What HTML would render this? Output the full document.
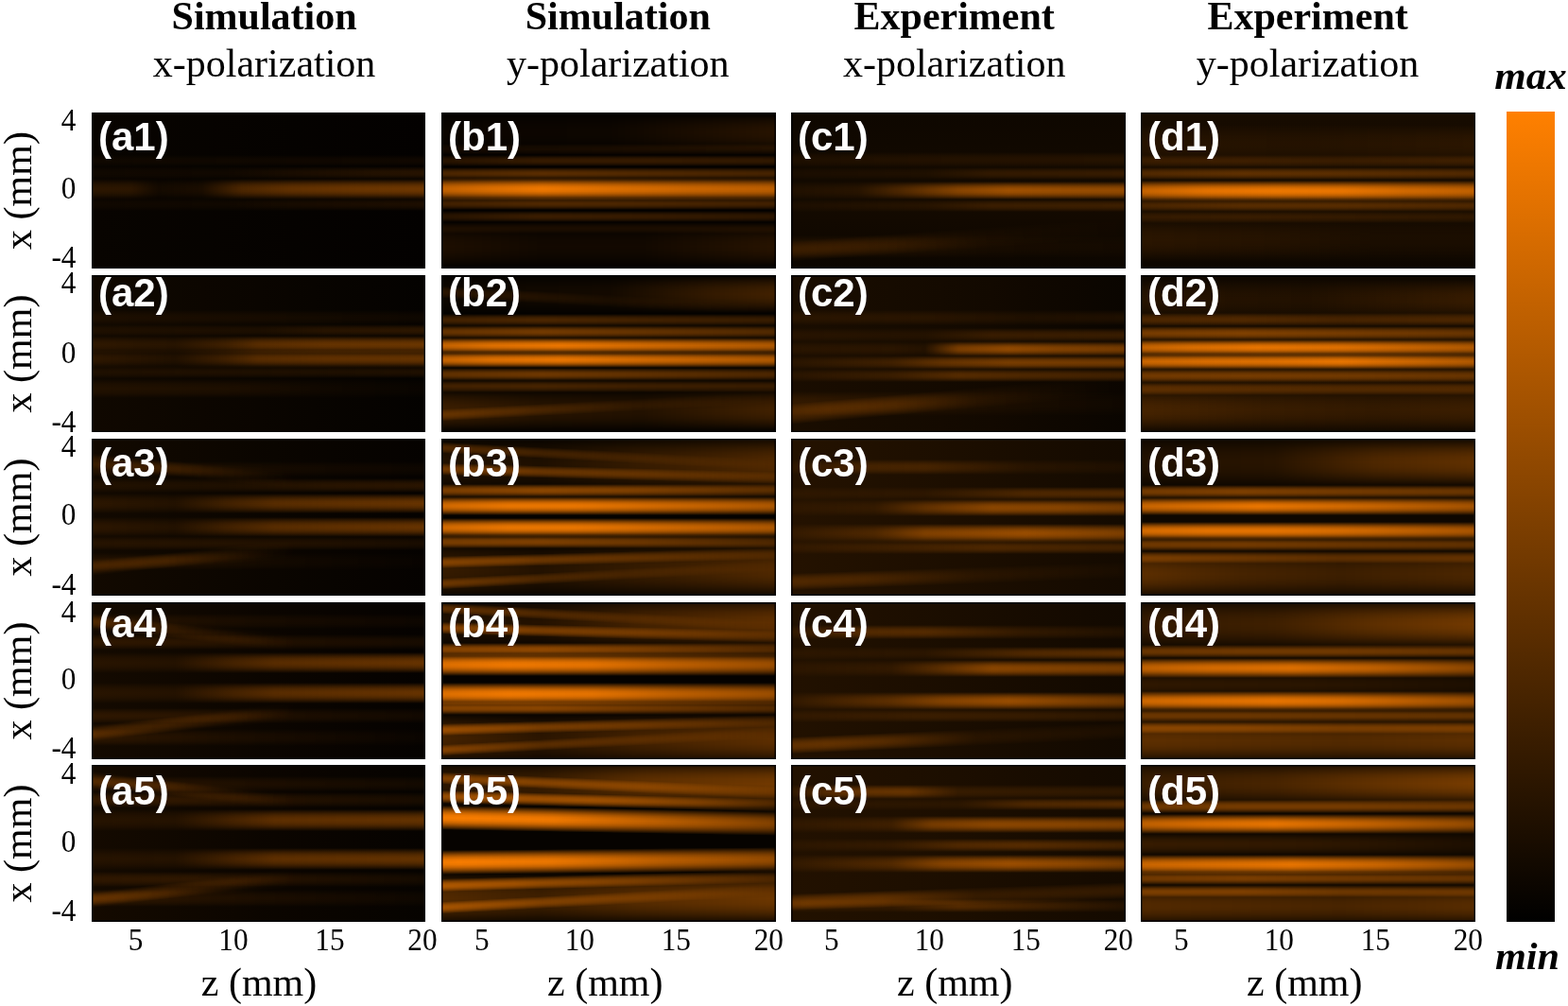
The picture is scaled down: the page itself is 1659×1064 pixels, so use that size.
<!DOCTYPE html>
<html><head><meta charset="utf-8"><title>figure</title><style>
html,body{margin:0;padding:0;background:#fff}
body{width:1659px;height:1064px;position:relative;overflow:hidden}
.p{position:absolute;overflow:hidden;isolation:isolate}
.p i{position:absolute;left:0;width:100%;display:block;mix-blend-mode:plus-lighter}
.p:after{content:'';position:absolute;left:0;top:0;right:0;bottom:0;box-shadow:inset 0 0 0 1.5px rgba(0,0,0,.85);z-index:5}
#cb{position:absolute;left:1594px;top:118px;width:51px;height:857px;background:linear-gradient(#ff8000,#000)}
svg{position:absolute;left:0;top:0}
</style></head><body>
<div class="p" style="left:97px;top:119px;width:353px;height:165px;background:linear-gradient(90deg,rgb(8,4,0),rgb(3,1,0))"><i style="top:69.8px;height:22.0px;background:linear-gradient(rgba(255,128,0,0.00) 0%,rgba(255,128,0,0.31) 10%,rgba(255,128,0,0.59) 20%,rgba(255,128,0,0.81) 30%,rgba(255,128,0,0.95) 40%,rgba(255,128,0,1.00) 50%,rgba(255,128,0,0.95) 60%,rgba(255,128,0,0.81) 70%,rgba(255,128,0,0.59) 80%,rgba(255,128,0,0.31) 90%,rgba(255,128,0,0.00) 100%);-webkit-mask-image:linear-gradient(90deg,rgba(0,0,0,0.140) 0.0%,rgba(0,0,0,0.140) 12.0%,rgba(0,0,0,0.050) 20.0%,rgba(0,0,0,0.080) 33.0%,rgba(0,0,0,0.280) 45.0%,rgba(0,0,0,0.360) 60.0%,rgba(0,0,0,0.400) 80.0%,rgba(0,0,0,0.420) 100.0%);mask-image:linear-gradient(90deg,rgba(0,0,0,0.140) 0.0%,rgba(0,0,0,0.140) 12.0%,rgba(0,0,0,0.050) 20.0%,rgba(0,0,0,0.080) 33.0%,rgba(0,0,0,0.280) 45.0%,rgba(0,0,0,0.360) 60.0%,rgba(0,0,0,0.400) 80.0%,rgba(0,0,0,0.420) 100.0%)"></i><i style="top:57.4px;height:14.0px;background:linear-gradient(rgba(255,128,0,0.00) 0%,rgba(255,128,0,0.31) 10%,rgba(255,128,0,0.59) 20%,rgba(255,128,0,0.81) 30%,rgba(255,128,0,0.95) 40%,rgba(255,128,0,1.00) 50%,rgba(255,128,0,0.95) 60%,rgba(255,128,0,0.81) 70%,rgba(255,128,0,0.59) 80%,rgba(255,128,0,0.31) 90%,rgba(255,128,0,0.00) 100%);-webkit-mask-image:linear-gradient(90deg,rgba(0,0,0,0.030) 0.0%,rgba(0,0,0,0.040) 40.0%,rgba(0,0,0,0.080) 60.0%,rgba(0,0,0,0.120) 85.0%,rgba(0,0,0,0.140) 100.0%);mask-image:linear-gradient(90deg,rgba(0,0,0,0.030) 0.0%,rgba(0,0,0,0.040) 40.0%,rgba(0,0,0,0.080) 60.0%,rgba(0,0,0,0.120) 85.0%,rgba(0,0,0,0.140) 100.0%)"></i><i style="top:89.5px;height:14.0px;background:linear-gradient(rgba(255,128,0,0.00) 0%,rgba(255,128,0,0.31) 10%,rgba(255,128,0,0.59) 20%,rgba(255,128,0,0.81) 30%,rgba(255,128,0,0.95) 40%,rgba(255,128,0,1.00) 50%,rgba(255,128,0,0.95) 60%,rgba(255,128,0,0.81) 70%,rgba(255,128,0,0.59) 80%,rgba(255,128,0,0.31) 90%,rgba(255,128,0,0.00) 100%);-webkit-mask-image:linear-gradient(90deg,rgba(0,0,0,0.030) 0.0%,rgba(0,0,0,0.040) 40.0%,rgba(0,0,0,0.070) 60.0%,rgba(0,0,0,0.100) 100.0%);mask-image:linear-gradient(90deg,rgba(0,0,0,0.030) 0.0%,rgba(0,0,0,0.040) 40.0%,rgba(0,0,0,0.070) 60.0%,rgba(0,0,0,0.100) 100.0%)"></i><i style="top:45.1px;height:12.0px;background:linear-gradient(rgba(255,128,0,0.00) 0%,rgba(255,128,0,0.31) 10%,rgba(255,128,0,0.59) 20%,rgba(255,128,0,0.81) 30%,rgba(255,128,0,0.95) 40%,rgba(255,128,0,1.00) 50%,rgba(255,128,0,0.95) 60%,rgba(255,128,0,0.81) 70%,rgba(255,128,0,0.59) 80%,rgba(255,128,0,0.31) 90%,rgba(255,128,0,0.00) 100%);-webkit-mask-image:linear-gradient(90deg,rgba(0,0,0,0.030) 0.0%,rgba(0,0,0,0.040) 50.0%,rgba(0,0,0,0.050) 100.0%);mask-image:linear-gradient(90deg,rgba(0,0,0,0.030) 0.0%,rgba(0,0,0,0.040) 50.0%,rgba(0,0,0,0.050) 100.0%)"></i></div>
<div class="p" style="left:97px;top:291px;width:353px;height:166px;background:linear-gradient(90deg,rgb(16,8,0),rgb(10,5,0) 50%,rgb(4,2,0))"><i style="top:64.0px;height:19.0px;background:linear-gradient(rgba(255,128,0,0.00) 0%,rgba(255,128,0,0.31) 10%,rgba(255,128,0,0.59) 20%,rgba(255,128,0,0.81) 30%,rgba(255,128,0,0.95) 40%,rgba(255,128,0,1.00) 50%,rgba(255,128,0,0.95) 60%,rgba(255,128,0,0.81) 70%,rgba(255,128,0,0.59) 80%,rgba(255,128,0,0.31) 90%,rgba(255,128,0,0.00) 100%);-webkit-mask-image:linear-gradient(90deg,rgba(0,0,0,0.120) 0.0%,rgba(0,0,0,0.100) 25.0%,rgba(0,0,0,0.200) 40.0%,rgba(0,0,0,0.300) 50.0%,rgba(0,0,0,0.360) 70.0%,rgba(0,0,0,0.400) 100.0%);mask-image:linear-gradient(90deg,rgba(0,0,0,0.120) 0.0%,rgba(0,0,0,0.100) 25.0%,rgba(0,0,0,0.200) 40.0%,rgba(0,0,0,0.300) 50.0%,rgba(0,0,0,0.360) 70.0%,rgba(0,0,0,0.400) 100.0%)"></i><i style="top:78.8px;height:19.0px;background:linear-gradient(rgba(255,128,0,0.00) 0%,rgba(255,128,0,0.31) 10%,rgba(255,128,0,0.59) 20%,rgba(255,128,0,0.81) 30%,rgba(255,128,0,0.95) 40%,rgba(255,128,0,1.00) 50%,rgba(255,128,0,0.95) 60%,rgba(255,128,0,0.81) 70%,rgba(255,128,0,0.59) 80%,rgba(255,128,0,0.31) 90%,rgba(255,128,0,0.00) 100%);-webkit-mask-image:linear-gradient(90deg,rgba(0,0,0,0.120) 0.0%,rgba(0,0,0,0.080) 25.0%,rgba(0,0,0,0.200) 40.0%,rgba(0,0,0,0.300) 50.0%,rgba(0,0,0,0.340) 70.0%,rgba(0,0,0,0.380) 100.0%);mask-image:linear-gradient(90deg,rgba(0,0,0,0.120) 0.0%,rgba(0,0,0,0.080) 25.0%,rgba(0,0,0,0.200) 40.0%,rgba(0,0,0,0.300) 50.0%,rgba(0,0,0,0.340) 70.0%,rgba(0,0,0,0.380) 100.0%)"></i><i style="top:52.4px;height:13.0px;background:linear-gradient(rgba(255,128,0,0.00) 0%,rgba(255,128,0,0.31) 10%,rgba(255,128,0,0.59) 20%,rgba(255,128,0,0.81) 30%,rgba(255,128,0,0.95) 40%,rgba(255,128,0,1.00) 50%,rgba(255,128,0,0.95) 60%,rgba(255,128,0,0.81) 70%,rgba(255,128,0,0.59) 80%,rgba(255,128,0,0.31) 90%,rgba(255,128,0,0.00) 100%);-webkit-mask-image:linear-gradient(90deg,rgba(0,0,0,0.060) 0.0%,rgba(0,0,0,0.070) 50.0%,rgba(0,0,0,0.120) 70.0%,rgba(0,0,0,0.160) 100.0%);mask-image:linear-gradient(90deg,rgba(0,0,0,0.060) 0.0%,rgba(0,0,0,0.070) 50.0%,rgba(0,0,0,0.120) 70.0%,rgba(0,0,0,0.160) 100.0%)"></i><i style="top:96.4px;height:13.0px;background:linear-gradient(rgba(255,128,0,0.00) 0%,rgba(255,128,0,0.31) 10%,rgba(255,128,0,0.59) 20%,rgba(255,128,0,0.81) 30%,rgba(255,128,0,0.95) 40%,rgba(255,128,0,1.00) 50%,rgba(255,128,0,0.95) 60%,rgba(255,128,0,0.81) 70%,rgba(255,128,0,0.59) 80%,rgba(255,128,0,0.31) 90%,rgba(255,128,0,0.00) 100%);-webkit-mask-image:linear-gradient(90deg,rgba(0,0,0,0.060) 0.0%,rgba(0,0,0,0.080) 50.0%,rgba(0,0,0,0.100) 100.0%);mask-image:linear-gradient(90deg,rgba(0,0,0,0.060) 0.0%,rgba(0,0,0,0.080) 50.0%,rgba(0,0,0,0.100) 100.0%)"></i><i style="top:109.5px;height:20.0px;background:linear-gradient(rgba(255,128,0,0.00) 0%,rgba(255,128,0,0.31) 10%,rgba(255,128,0,0.59) 20%,rgba(255,128,0,0.81) 30%,rgba(255,128,0,0.95) 40%,rgba(255,128,0,1.00) 50%,rgba(255,128,0,0.95) 60%,rgba(255,128,0,0.81) 70%,rgba(255,128,0,0.59) 80%,rgba(255,128,0,0.31) 90%,rgba(255,128,0,0.00) 100%);-webkit-mask-image:linear-gradient(90deg,rgba(0,0,0,0.070) 0.0%,rgba(0,0,0,0.070) 40.0%,rgba(0,0,0,0.030) 70.0%,rgba(0,0,0,0.020) 100.0%);mask-image:linear-gradient(90deg,rgba(0,0,0,0.070) 0.0%,rgba(0,0,0,0.070) 40.0%,rgba(0,0,0,0.030) 70.0%,rgba(0,0,0,0.020) 100.0%)"></i><i style="top:36.8px;height:16.0px;background:linear-gradient(rgba(255,128,0,0.00) 0%,rgba(255,128,0,0.31) 10%,rgba(255,128,0,0.59) 20%,rgba(255,128,0,0.81) 30%,rgba(255,128,0,0.95) 40%,rgba(255,128,0,1.00) 50%,rgba(255,128,0,0.95) 60%,rgba(255,128,0,0.81) 70%,rgba(255,128,0,0.59) 80%,rgba(255,128,0,0.31) 90%,rgba(255,128,0,0.00) 100%);-webkit-mask-image:linear-gradient(90deg,rgba(0,0,0,0.050) 0.0%,rgba(0,0,0,0.050) 50.0%,rgba(0,0,0,0.040) 100.0%);mask-image:linear-gradient(90deg,rgba(0,0,0,0.050) 0.0%,rgba(0,0,0,0.050) 50.0%,rgba(0,0,0,0.040) 100.0%)"></i></div>
<div class="p" style="left:97px;top:464px;width:353px;height:166px;background:linear-gradient(90deg,rgb(18,9,0),rgb(10,5,0) 55%,rgb(5,2,0))"><i style="top:57.6px;height:21.0px;background:linear-gradient(rgba(255,128,0,0.00) 0%,rgba(255,128,0,0.31) 10%,rgba(255,128,0,0.59) 20%,rgba(255,128,0,0.81) 30%,rgba(255,128,0,0.95) 40%,rgba(255,128,0,1.00) 50%,rgba(255,128,0,0.95) 60%,rgba(255,128,0,0.81) 70%,rgba(255,128,0,0.59) 80%,rgba(255,128,0,0.31) 90%,rgba(255,128,0,0.00) 100%);-webkit-mask-image:linear-gradient(90deg,rgba(0,0,0,0.100) 0.0%,rgba(0,0,0,0.080) 25.0%,rgba(0,0,0,0.200) 40.0%,rgba(0,0,0,0.300) 55.0%,rgba(0,0,0,0.340) 75.0%,rgba(0,0,0,0.380) 100.0%);mask-image:linear-gradient(90deg,rgba(0,0,0,0.100) 0.0%,rgba(0,0,0,0.080) 25.0%,rgba(0,0,0,0.200) 40.0%,rgba(0,0,0,0.300) 55.0%,rgba(0,0,0,0.340) 75.0%,rgba(0,0,0,0.380) 100.0%)"></i><i style="top:82.5px;height:21.0px;background:linear-gradient(rgba(255,128,0,0.00) 0%,rgba(255,128,0,0.31) 10%,rgba(255,128,0,0.59) 20%,rgba(255,128,0,0.81) 30%,rgba(255,128,0,0.95) 40%,rgba(255,128,0,1.00) 50%,rgba(255,128,0,0.95) 60%,rgba(255,128,0,0.81) 70%,rgba(255,128,0,0.59) 80%,rgba(255,128,0,0.31) 90%,rgba(255,128,0,0.00) 100%);-webkit-mask-image:linear-gradient(90deg,rgba(0,0,0,0.100) 0.0%,rgba(0,0,0,0.080) 25.0%,rgba(0,0,0,0.200) 40.0%,rgba(0,0,0,0.300) 55.0%,rgba(0,0,0,0.340) 75.0%,rgba(0,0,0,0.380) 100.0%);mask-image:linear-gradient(90deg,rgba(0,0,0,0.100) 0.0%,rgba(0,0,0,0.080) 25.0%,rgba(0,0,0,0.200) 40.0%,rgba(0,0,0,0.300) 55.0%,rgba(0,0,0,0.340) 75.0%,rgba(0,0,0,0.380) 100.0%)"></i><i style="top:42.3px;height:15.0px;background:linear-gradient(rgba(255,128,0,0.00) 0%,rgba(255,128,0,0.31) 10%,rgba(255,128,0,0.59) 20%,rgba(255,128,0,0.81) 30%,rgba(255,128,0,0.95) 40%,rgba(255,128,0,1.00) 50%,rgba(255,128,0,0.95) 60%,rgba(255,128,0,0.81) 70%,rgba(255,128,0,0.59) 80%,rgba(255,128,0,0.31) 90%,rgba(255,128,0,0.00) 100%);-webkit-mask-image:linear-gradient(90deg,rgba(0,0,0,0.060) 0.0%,rgba(0,0,0,0.070) 40.0%,rgba(0,0,0,0.120) 70.0%,rgba(0,0,0,0.140) 100.0%);mask-image:linear-gradient(90deg,rgba(0,0,0,0.060) 0.0%,rgba(0,0,0,0.070) 40.0%,rgba(0,0,0,0.120) 70.0%,rgba(0,0,0,0.140) 100.0%)"></i><i style="top:102.9px;height:15.0px;background:linear-gradient(rgba(255,128,0,0.00) 0%,rgba(255,128,0,0.31) 10%,rgba(255,128,0,0.59) 20%,rgba(255,128,0,0.81) 30%,rgba(255,128,0,0.95) 40%,rgba(255,128,0,1.00) 50%,rgba(255,128,0,0.95) 60%,rgba(255,128,0,0.81) 70%,rgba(255,128,0,0.59) 80%,rgba(255,128,0,0.31) 90%,rgba(255,128,0,0.00) 100%);-webkit-mask-image:linear-gradient(90deg,rgba(0,0,0,0.080) 0.0%,rgba(0,0,0,0.090) 40.0%,rgba(0,0,0,0.090) 70.0%,rgba(0,0,0,0.080) 100.0%);mask-image:linear-gradient(90deg,rgba(0,0,0,0.080) 0.0%,rgba(0,0,0,0.090) 40.0%,rgba(0,0,0,0.090) 70.0%,rgba(0,0,0,0.080) 100.0%)"></i><i style="top:23.5px;height:16.0px;background:linear-gradient(rgba(255,128,0,0.00) 0%,rgba(255,128,0,0.31) 10%,rgba(255,128,0,0.59) 20%,rgba(255,128,0,0.81) 30%,rgba(255,128,0,0.95) 40%,rgba(255,128,0,1.00) 50%,rgba(255,128,0,0.95) 60%,rgba(255,128,0,0.81) 70%,rgba(255,128,0,0.59) 80%,rgba(255,128,0,0.31) 90%,rgba(255,128,0,0.00) 100%);-webkit-mask-image:linear-gradient(90deg,rgba(0,0,0,0.080) 0.0%,rgba(0,0,0,0.060) 30.0%,rgba(0,0,0,0.040) 60.0%,rgba(0,0,0,0.030) 100.0%);mask-image:linear-gradient(90deg,rgba(0,0,0,0.080) 0.0%,rgba(0,0,0,0.060) 30.0%,rgba(0,0,0,0.040) 60.0%,rgba(0,0,0,0.030) 100.0%)"></i><i style="top:120.5px;height:18.0px;background:linear-gradient(rgba(255,128,0,0.00) 0%,rgba(255,128,0,0.31) 10%,rgba(255,128,0,0.59) 20%,rgba(255,128,0,0.81) 30%,rgba(255,128,0,0.95) 40%,rgba(255,128,0,1.00) 50%,rgba(255,128,0,0.95) 60%,rgba(255,128,0,0.81) 70%,rgba(255,128,0,0.59) 80%,rgba(255,128,0,0.31) 90%,rgba(255,128,0,0.00) 100%);-webkit-mask-image:linear-gradient(90deg,rgba(0,0,0,0.070) 0.0%,rgba(0,0,0,0.060) 30.0%,rgba(0,0,0,0.030) 60.0%,rgba(0,0,0,0.010) 100.0%);mask-image:linear-gradient(90deg,rgba(0,0,0,0.070) 0.0%,rgba(0,0,0,0.060) 30.0%,rgba(0,0,0,0.030) 60.0%,rgba(0,0,0,0.010) 100.0%)"></i><i style="top:91.6px;height:16.0px;background:linear-gradient(rgba(255,128,0,0.00) 0%,rgba(255,128,0,0.31) 10%,rgba(255,128,0,0.59) 20%,rgba(255,128,0,0.81) 30%,rgba(255,128,0,0.95) 40%,rgba(255,128,0,1.00) 50%,rgba(255,128,0,0.95) 60%,rgba(255,128,0,0.81) 70%,rgba(255,128,0,0.59) 80%,rgba(255,128,0,0.31) 90%,rgba(255,128,0,0.00) 100%);-webkit-mask-image:linear-gradient(90deg,rgba(0,0,0,0.098) 0.0%,rgba(0,0,0,0.084) 30.0%,rgba(0,0,0,0.042) 50.0%,rgba(0,0,0,0.000) 65.0%);mask-image:linear-gradient(90deg,rgba(0,0,0,0.098) 0.0%,rgba(0,0,0,0.084) 30.0%,rgba(0,0,0,0.042) 50.0%,rgba(0,0,0,0.000) 65.0%);left:-12%;width:112%;transform:rotate(-6deg);transform-origin:100% 50%"></i><i style="top:101.6px;height:16.0px;background:linear-gradient(rgba(255,128,0,0.00) 0%,rgba(255,128,0,0.31) 10%,rgba(255,128,0,0.59) 20%,rgba(255,128,0,0.81) 30%,rgba(255,128,0,0.95) 40%,rgba(255,128,0,1.00) 50%,rgba(255,128,0,0.95) 60%,rgba(255,128,0,0.81) 70%,rgba(255,128,0,0.59) 80%,rgba(255,128,0,0.31) 90%,rgba(255,128,0,0.00) 100%);-webkit-mask-image:linear-gradient(90deg,rgba(0,0,0,0.084) 0.0%,rgba(0,0,0,0.070) 30.0%,rgba(0,0,0,0.035) 50.0%,rgba(0,0,0,0.000) 65.0%);mask-image:linear-gradient(90deg,rgba(0,0,0,0.084) 0.0%,rgba(0,0,0,0.070) 30.0%,rgba(0,0,0,0.035) 50.0%,rgba(0,0,0,0.000) 65.0%);left:-12%;width:112%;transform:rotate(-4deg);transform-origin:100% 50%"></i><i style="top:51.8px;height:16.0px;background:linear-gradient(rgba(255,128,0,0.00) 0%,rgba(255,128,0,0.31) 10%,rgba(255,128,0,0.59) 20%,rgba(255,128,0,0.81) 30%,rgba(255,128,0,0.95) 40%,rgba(255,128,0,1.00) 50%,rgba(255,128,0,0.95) 60%,rgba(255,128,0,0.81) 70%,rgba(255,128,0,0.59) 80%,rgba(255,128,0,0.31) 90%,rgba(255,128,0,0.00) 100%);-webkit-mask-image:linear-gradient(90deg,rgba(0,0,0,0.070) 0.0%,rgba(0,0,0,0.063) 30.0%,rgba(0,0,0,0.035) 50.0%,rgba(0,0,0,0.000) 65.0%);mask-image:linear-gradient(90deg,rgba(0,0,0,0.070) 0.0%,rgba(0,0,0,0.063) 30.0%,rgba(0,0,0,0.035) 50.0%,rgba(0,0,0,0.000) 65.0%);left:-12%;width:112%;transform:rotate(6deg);transform-origin:100% 50%"></i><i style="top:41.8px;height:16.0px;background:linear-gradient(rgba(255,128,0,0.00) 0%,rgba(255,128,0,0.31) 10%,rgba(255,128,0,0.59) 20%,rgba(255,128,0,0.81) 30%,rgba(255,128,0,0.95) 40%,rgba(255,128,0,1.00) 50%,rgba(255,128,0,0.95) 60%,rgba(255,128,0,0.81) 70%,rgba(255,128,0,0.59) 80%,rgba(255,128,0,0.31) 90%,rgba(255,128,0,0.00) 100%);-webkit-mask-image:linear-gradient(90deg,rgba(0,0,0,0.070) 0.0%,rgba(0,0,0,0.056) 30.0%,rgba(0,0,0,0.028) 50.0%,rgba(0,0,0,0.000) 65.0%);mask-image:linear-gradient(90deg,rgba(0,0,0,0.070) 0.0%,rgba(0,0,0,0.056) 30.0%,rgba(0,0,0,0.028) 50.0%,rgba(0,0,0,0.000) 65.0%);left:-12%;width:112%;transform:rotate(4deg);transform-origin:100% 50%"></i></div>
<div class="p" style="left:97px;top:637px;width:353px;height:166px;background:linear-gradient(90deg,rgb(20,10,0),rgb(11,5,0) 55%,rgb(5,2,0))"><i style="top:52.9px;height:22.0px;background:linear-gradient(rgba(255,128,0,0.00) 0%,rgba(255,128,0,0.31) 10%,rgba(255,128,0,0.59) 20%,rgba(255,128,0,0.81) 30%,rgba(255,128,0,0.95) 40%,rgba(255,128,0,1.00) 50%,rgba(255,128,0,0.95) 60%,rgba(255,128,0,0.81) 70%,rgba(255,128,0,0.59) 80%,rgba(255,128,0,0.31) 90%,rgba(255,128,0,0.00) 100%);-webkit-mask-image:linear-gradient(90deg,rgba(0,0,0,0.080) 0.0%,rgba(0,0,0,0.080) 25.0%,rgba(0,0,0,0.200) 40.0%,rgba(0,0,0,0.300) 55.0%,rgba(0,0,0,0.340) 75.0%,rgba(0,0,0,0.380) 100.0%);mask-image:linear-gradient(90deg,rgba(0,0,0,0.080) 0.0%,rgba(0,0,0,0.080) 25.0%,rgba(0,0,0,0.200) 40.0%,rgba(0,0,0,0.300) 55.0%,rgba(0,0,0,0.340) 75.0%,rgba(0,0,0,0.380) 100.0%)"></i><i style="top:85.3px;height:22.0px;background:linear-gradient(rgba(255,128,0,0.00) 0%,rgba(255,128,0,0.31) 10%,rgba(255,128,0,0.59) 20%,rgba(255,128,0,0.81) 30%,rgba(255,128,0,0.95) 40%,rgba(255,128,0,1.00) 50%,rgba(255,128,0,0.95) 60%,rgba(255,128,0,0.81) 70%,rgba(255,128,0,0.59) 80%,rgba(255,128,0,0.31) 90%,rgba(255,128,0,0.00) 100%);-webkit-mask-image:linear-gradient(90deg,rgba(0,0,0,0.080) 0.0%,rgba(0,0,0,0.080) 25.0%,rgba(0,0,0,0.200) 40.0%,rgba(0,0,0,0.300) 55.0%,rgba(0,0,0,0.340) 75.0%,rgba(0,0,0,0.380) 100.0%);mask-image:linear-gradient(90deg,rgba(0,0,0,0.080) 0.0%,rgba(0,0,0,0.080) 25.0%,rgba(0,0,0,0.200) 40.0%,rgba(0,0,0,0.300) 55.0%,rgba(0,0,0,0.340) 75.0%,rgba(0,0,0,0.380) 100.0%)"></i><i style="top:33.5px;height:16.0px;background:linear-gradient(rgba(255,128,0,0.00) 0%,rgba(255,128,0,0.31) 10%,rgba(255,128,0,0.59) 20%,rgba(255,128,0,0.81) 30%,rgba(255,128,0,0.95) 40%,rgba(255,128,0,1.00) 50%,rgba(255,128,0,0.95) 60%,rgba(255,128,0,0.81) 70%,rgba(255,128,0,0.59) 80%,rgba(255,128,0,0.31) 90%,rgba(255,128,0,0.00) 100%);-webkit-mask-image:linear-gradient(90deg,rgba(0,0,0,0.100) 0.0%,rgba(0,0,0,0.100) 30.0%,rgba(0,0,0,0.080) 60.0%,rgba(0,0,0,0.070) 100.0%);mask-image:linear-gradient(90deg,rgba(0,0,0,0.100) 0.0%,rgba(0,0,0,0.100) 30.0%,rgba(0,0,0,0.080) 60.0%,rgba(0,0,0,0.070) 100.0%)"></i><i style="top:111.5px;height:16.0px;background:linear-gradient(rgba(255,128,0,0.00) 0%,rgba(255,128,0,0.31) 10%,rgba(255,128,0,0.59) 20%,rgba(255,128,0,0.81) 30%,rgba(255,128,0,0.95) 40%,rgba(255,128,0,1.00) 50%,rgba(255,128,0,0.95) 60%,rgba(255,128,0,0.81) 70%,rgba(255,128,0,0.59) 80%,rgba(255,128,0,0.31) 90%,rgba(255,128,0,0.00) 100%);-webkit-mask-image:linear-gradient(90deg,rgba(0,0,0,0.100) 0.0%,rgba(0,0,0,0.100) 30.0%,rgba(0,0,0,0.070) 60.0%,rgba(0,0,0,0.050) 100.0%);mask-image:linear-gradient(90deg,rgba(0,0,0,0.100) 0.0%,rgba(0,0,0,0.100) 30.0%,rgba(0,0,0,0.070) 60.0%,rgba(0,0,0,0.050) 100.0%)"></i><i style="top:11.9px;height:16.0px;background:linear-gradient(rgba(255,128,0,0.00) 0%,rgba(255,128,0,0.31) 10%,rgba(255,128,0,0.59) 20%,rgba(255,128,0,0.81) 30%,rgba(255,128,0,0.95) 40%,rgba(255,128,0,1.00) 50%,rgba(255,128,0,0.95) 60%,rgba(255,128,0,0.81) 70%,rgba(255,128,0,0.59) 80%,rgba(255,128,0,0.31) 90%,rgba(255,128,0,0.00) 100%);-webkit-mask-image:linear-gradient(90deg,rgba(0,0,0,0.080) 0.0%,rgba(0,0,0,0.050) 40.0%,rgba(0,0,0,0.030) 100.0%);mask-image:linear-gradient(90deg,rgba(0,0,0,0.080) 0.0%,rgba(0,0,0,0.050) 40.0%,rgba(0,0,0,0.030) 100.0%)"></i><i style="top:133.8px;height:18.0px;background:linear-gradient(rgba(255,128,0,0.00) 0%,rgba(255,128,0,0.31) 10%,rgba(255,128,0,0.59) 20%,rgba(255,128,0,0.81) 30%,rgba(255,128,0,0.95) 40%,rgba(255,128,0,1.00) 50%,rgba(255,128,0,0.95) 60%,rgba(255,128,0,0.81) 70%,rgba(255,128,0,0.59) 80%,rgba(255,128,0,0.31) 90%,rgba(255,128,0,0.00) 100%);-webkit-mask-image:linear-gradient(90deg,rgba(0,0,0,0.100) 0.0%,rgba(0,0,0,0.060) 40.0%,rgba(0,0,0,0.020) 100.0%);mask-image:linear-gradient(90deg,rgba(0,0,0,0.100) 0.0%,rgba(0,0,0,0.060) 40.0%,rgba(0,0,0,0.020) 100.0%)"></i><i style="top:88.3px;height:16.0px;background:linear-gradient(rgba(255,128,0,0.00) 0%,rgba(255,128,0,0.31) 10%,rgba(255,128,0,0.59) 20%,rgba(255,128,0,0.81) 30%,rgba(255,128,0,0.95) 40%,rgba(255,128,0,1.00) 50%,rgba(255,128,0,0.95) 60%,rgba(255,128,0,0.81) 70%,rgba(255,128,0,0.59) 80%,rgba(255,128,0,0.31) 90%,rgba(255,128,0,0.00) 100%);-webkit-mask-image:linear-gradient(90deg,rgba(0,0,0,0.112) 0.0%,rgba(0,0,0,0.098) 30.0%,rgba(0,0,0,0.049) 50.0%,rgba(0,0,0,0.000) 65.0%);mask-image:linear-gradient(90deg,rgba(0,0,0,0.112) 0.0%,rgba(0,0,0,0.098) 30.0%,rgba(0,0,0,0.049) 50.0%,rgba(0,0,0,0.000) 65.0%);left:-12%;width:112%;transform:rotate(-7deg);transform-origin:100% 50%"></i><i style="top:98.2px;height:16.0px;background:linear-gradient(rgba(255,128,0,0.00) 0%,rgba(255,128,0,0.31) 10%,rgba(255,128,0,0.59) 20%,rgba(255,128,0,0.81) 30%,rgba(255,128,0,0.95) 40%,rgba(255,128,0,1.00) 50%,rgba(255,128,0,0.95) 60%,rgba(255,128,0,0.81) 70%,rgba(255,128,0,0.59) 80%,rgba(255,128,0,0.31) 90%,rgba(255,128,0,0.00) 100%);-webkit-mask-image:linear-gradient(90deg,rgba(0,0,0,0.098) 0.0%,rgba(0,0,0,0.084) 30.0%,rgba(0,0,0,0.042) 50.0%,rgba(0,0,0,0.000) 65.0%);mask-image:linear-gradient(90deg,rgba(0,0,0,0.098) 0.0%,rgba(0,0,0,0.084) 30.0%,rgba(0,0,0,0.042) 50.0%,rgba(0,0,0,0.000) 65.0%);left:-12%;width:112%;transform:rotate(-5deg);transform-origin:100% 50%"></i><i style="top:55.1px;height:16.0px;background:linear-gradient(rgba(255,128,0,0.00) 0%,rgba(255,128,0,0.31) 10%,rgba(255,128,0,0.59) 20%,rgba(255,128,0,0.81) 30%,rgba(255,128,0,0.95) 40%,rgba(255,128,0,1.00) 50%,rgba(255,128,0,0.95) 60%,rgba(255,128,0,0.81) 70%,rgba(255,128,0,0.59) 80%,rgba(255,128,0,0.31) 90%,rgba(255,128,0,0.00) 100%);-webkit-mask-image:linear-gradient(90deg,rgba(0,0,0,0.084) 0.0%,rgba(0,0,0,0.070) 30.0%,rgba(0,0,0,0.035) 50.0%,rgba(0,0,0,0.000) 65.0%);mask-image:linear-gradient(90deg,rgba(0,0,0,0.084) 0.0%,rgba(0,0,0,0.070) 30.0%,rgba(0,0,0,0.035) 50.0%,rgba(0,0,0,0.000) 65.0%);left:-12%;width:112%;transform:rotate(7deg);transform-origin:100% 50%"></i><i style="top:45.1px;height:16.0px;background:linear-gradient(rgba(255,128,0,0.00) 0%,rgba(255,128,0,0.31) 10%,rgba(255,128,0,0.59) 20%,rgba(255,128,0,0.81) 30%,rgba(255,128,0,0.95) 40%,rgba(255,128,0,1.00) 50%,rgba(255,128,0,0.95) 60%,rgba(255,128,0,0.81) 70%,rgba(255,128,0,0.59) 80%,rgba(255,128,0,0.31) 90%,rgba(255,128,0,0.00) 100%);-webkit-mask-image:linear-gradient(90deg,rgba(0,0,0,0.084) 0.0%,rgba(0,0,0,0.070) 30.0%,rgba(0,0,0,0.035) 50.0%,rgba(0,0,0,0.000) 65.0%);mask-image:linear-gradient(90deg,rgba(0,0,0,0.084) 0.0%,rgba(0,0,0,0.070) 30.0%,rgba(0,0,0,0.035) 50.0%,rgba(0,0,0,0.000) 65.0%);left:-12%;width:112%;transform:rotate(5deg);transform-origin:100% 50%"></i></div>
<div class="p" style="left:97px;top:809px;width:353px;height:166px;background:linear-gradient(90deg,rgb(20,10,0),rgb(11,5,0) 55%,rgb(6,3,0))"><i style="top:47.4px;height:23.0px;background:linear-gradient(rgba(255,128,0,0.00) 0%,rgba(255,128,0,0.31) 10%,rgba(255,128,0,0.59) 20%,rgba(255,128,0,0.81) 30%,rgba(255,128,0,0.95) 40%,rgba(255,128,0,1.00) 50%,rgba(255,128,0,0.95) 60%,rgba(255,128,0,0.81) 70%,rgba(255,128,0,0.59) 80%,rgba(255,128,0,0.31) 90%,rgba(255,128,0,0.00) 100%);-webkit-mask-image:linear-gradient(90deg,rgba(0,0,0,0.070) 0.0%,rgba(0,0,0,0.080) 25.0%,rgba(0,0,0,0.200) 40.0%,rgba(0,0,0,0.320) 55.0%,rgba(0,0,0,0.340) 75.0%,rgba(0,0,0,0.360) 100.0%);mask-image:linear-gradient(90deg,rgba(0,0,0,0.070) 0.0%,rgba(0,0,0,0.080) 25.0%,rgba(0,0,0,0.200) 40.0%,rgba(0,0,0,0.320) 55.0%,rgba(0,0,0,0.340) 75.0%,rgba(0,0,0,0.360) 100.0%)"></i><i style="top:88.1px;height:23.0px;background:linear-gradient(rgba(255,128,0,0.00) 0%,rgba(255,128,0,0.31) 10%,rgba(255,128,0,0.59) 20%,rgba(255,128,0,0.81) 30%,rgba(255,128,0,0.95) 40%,rgba(255,128,0,1.00) 50%,rgba(255,128,0,0.95) 60%,rgba(255,128,0,0.81) 70%,rgba(255,128,0,0.59) 80%,rgba(255,128,0,0.31) 90%,rgba(255,128,0,0.00) 100%);-webkit-mask-image:linear-gradient(90deg,rgba(0,0,0,0.070) 0.0%,rgba(0,0,0,0.080) 25.0%,rgba(0,0,0,0.200) 40.0%,rgba(0,0,0,0.320) 55.0%,rgba(0,0,0,0.340) 75.0%,rgba(0,0,0,0.360) 100.0%);mask-image:linear-gradient(90deg,rgba(0,0,0,0.070) 0.0%,rgba(0,0,0,0.080) 25.0%,rgba(0,0,0,0.200) 40.0%,rgba(0,0,0,0.320) 55.0%,rgba(0,0,0,0.340) 75.0%,rgba(0,0,0,0.360) 100.0%)"></i><i style="top:28.5px;height:16.0px;background:linear-gradient(rgba(255,128,0,0.00) 0%,rgba(255,128,0,0.31) 10%,rgba(255,128,0,0.59) 20%,rgba(255,128,0,0.81) 30%,rgba(255,128,0,0.95) 40%,rgba(255,128,0,1.00) 50%,rgba(255,128,0,0.95) 60%,rgba(255,128,0,0.81) 70%,rgba(255,128,0,0.59) 80%,rgba(255,128,0,0.31) 90%,rgba(255,128,0,0.00) 100%);-webkit-mask-image:linear-gradient(90deg,rgba(0,0,0,0.120) 0.0%,rgba(0,0,0,0.120) 30.0%,rgba(0,0,0,0.090) 60.0%,rgba(0,0,0,0.070) 100.0%);mask-image:linear-gradient(90deg,rgba(0,0,0,0.120) 0.0%,rgba(0,0,0,0.120) 30.0%,rgba(0,0,0,0.090) 60.0%,rgba(0,0,0,0.070) 100.0%)"></i><i style="top:11.9px;height:16.0px;background:linear-gradient(rgba(255,128,0,0.00) 0%,rgba(255,128,0,0.31) 10%,rgba(255,128,0,0.59) 20%,rgba(255,128,0,0.81) 30%,rgba(255,128,0,0.95) 40%,rgba(255,128,0,1.00) 50%,rgba(255,128,0,0.95) 60%,rgba(255,128,0,0.81) 70%,rgba(255,128,0,0.59) 80%,rgba(255,128,0,0.31) 90%,rgba(255,128,0,0.00) 100%);-webkit-mask-image:linear-gradient(90deg,rgba(0,0,0,0.090) 0.0%,rgba(0,0,0,0.070) 40.0%,rgba(0,0,0,0.050) 100.0%);mask-image:linear-gradient(90deg,rgba(0,0,0,0.090) 0.0%,rgba(0,0,0,0.070) 40.0%,rgba(0,0,0,0.050) 100.0%)"></i><i style="top:113.2px;height:16.0px;background:linear-gradient(rgba(255,128,0,0.00) 0%,rgba(255,128,0,0.31) 10%,rgba(255,128,0,0.59) 20%,rgba(255,128,0,0.81) 30%,rgba(255,128,0,0.95) 40%,rgba(255,128,0,1.00) 50%,rgba(255,128,0,0.95) 60%,rgba(255,128,0,0.81) 70%,rgba(255,128,0,0.59) 80%,rgba(255,128,0,0.31) 90%,rgba(255,128,0,0.00) 100%);-webkit-mask-image:linear-gradient(90deg,rgba(0,0,0,0.100) 0.0%,rgba(0,0,0,0.120) 30.0%,rgba(0,0,0,0.090) 60.0%,rgba(0,0,0,0.060) 100.0%);mask-image:linear-gradient(90deg,rgba(0,0,0,0.100) 0.0%,rgba(0,0,0,0.120) 30.0%,rgba(0,0,0,0.090) 60.0%,rgba(0,0,0,0.060) 100.0%)"></i><i style="top:132.1px;height:18.0px;background:linear-gradient(rgba(255,128,0,0.00) 0%,rgba(255,128,0,0.31) 10%,rgba(255,128,0,0.59) 20%,rgba(255,128,0,0.81) 30%,rgba(255,128,0,0.95) 40%,rgba(255,128,0,1.00) 50%,rgba(255,128,0,0.95) 60%,rgba(255,128,0,0.81) 70%,rgba(255,128,0,0.59) 80%,rgba(255,128,0,0.31) 90%,rgba(255,128,0,0.00) 100%);-webkit-mask-image:linear-gradient(90deg,rgba(0,0,0,0.120) 0.0%,rgba(0,0,0,0.070) 40.0%,rgba(0,0,0,0.030) 100.0%);mask-image:linear-gradient(90deg,rgba(0,0,0,0.120) 0.0%,rgba(0,0,0,0.070) 40.0%,rgba(0,0,0,0.030) 100.0%)"></i><i style="top:91.6px;height:16.0px;background:linear-gradient(rgba(255,128,0,0.00) 0%,rgba(255,128,0,0.31) 10%,rgba(255,128,0,0.59) 20%,rgba(255,128,0,0.81) 30%,rgba(255,128,0,0.95) 40%,rgba(255,128,0,1.00) 50%,rgba(255,128,0,0.95) 60%,rgba(255,128,0,0.81) 70%,rgba(255,128,0,0.59) 80%,rgba(255,128,0,0.31) 90%,rgba(255,128,0,0.00) 100%);-webkit-mask-image:linear-gradient(90deg,rgba(0,0,0,0.112) 0.0%,rgba(0,0,0,0.098) 30.0%,rgba(0,0,0,0.049) 50.0%,rgba(0,0,0,0.000) 65.0%);mask-image:linear-gradient(90deg,rgba(0,0,0,0.112) 0.0%,rgba(0,0,0,0.098) 30.0%,rgba(0,0,0,0.049) 50.0%,rgba(0,0,0,0.000) 65.0%);left:-12%;width:112%;transform:rotate(-7deg);transform-origin:100% 50%"></i><i style="top:101.6px;height:16.0px;background:linear-gradient(rgba(255,128,0,0.00) 0%,rgba(255,128,0,0.31) 10%,rgba(255,128,0,0.59) 20%,rgba(255,128,0,0.81) 30%,rgba(255,128,0,0.95) 40%,rgba(255,128,0,1.00) 50%,rgba(255,128,0,0.95) 60%,rgba(255,128,0,0.81) 70%,rgba(255,128,0,0.59) 80%,rgba(255,128,0,0.31) 90%,rgba(255,128,0,0.00) 100%);-webkit-mask-image:linear-gradient(90deg,rgba(0,0,0,0.098) 0.0%,rgba(0,0,0,0.084) 30.0%,rgba(0,0,0,0.042) 50.0%,rgba(0,0,0,0.000) 65.0%);mask-image:linear-gradient(90deg,rgba(0,0,0,0.098) 0.0%,rgba(0,0,0,0.084) 30.0%,rgba(0,0,0,0.042) 50.0%,rgba(0,0,0,0.000) 65.0%);left:-12%;width:112%;transform:rotate(-5deg);transform-origin:100% 50%"></i><i style="top:50.1px;height:16.0px;background:linear-gradient(rgba(255,128,0,0.00) 0%,rgba(255,128,0,0.31) 10%,rgba(255,128,0,0.59) 20%,rgba(255,128,0,0.81) 30%,rgba(255,128,0,0.95) 40%,rgba(255,128,0,1.00) 50%,rgba(255,128,0,0.95) 60%,rgba(255,128,0,0.81) 70%,rgba(255,128,0,0.59) 80%,rgba(255,128,0,0.31) 90%,rgba(255,128,0,0.00) 100%);-webkit-mask-image:linear-gradient(90deg,rgba(0,0,0,0.098) 0.0%,rgba(0,0,0,0.084) 30.0%,rgba(0,0,0,0.042) 50.0%,rgba(0,0,0,0.000) 65.0%);mask-image:linear-gradient(90deg,rgba(0,0,0,0.098) 0.0%,rgba(0,0,0,0.084) 30.0%,rgba(0,0,0,0.042) 50.0%,rgba(0,0,0,0.000) 65.0%);left:-12%;width:112%;transform:rotate(7deg);transform-origin:100% 50%"></i><i style="top:40.1px;height:16.0px;background:linear-gradient(rgba(255,128,0,0.00) 0%,rgba(255,128,0,0.31) 10%,rgba(255,128,0,0.59) 20%,rgba(255,128,0,0.81) 30%,rgba(255,128,0,0.95) 40%,rgba(255,128,0,1.00) 50%,rgba(255,128,0,0.95) 60%,rgba(255,128,0,0.81) 70%,rgba(255,128,0,0.59) 80%,rgba(255,128,0,0.31) 90%,rgba(255,128,0,0.00) 100%);-webkit-mask-image:linear-gradient(90deg,rgba(0,0,0,0.084) 0.0%,rgba(0,0,0,0.070) 30.0%,rgba(0,0,0,0.035) 50.0%,rgba(0,0,0,0.000) 65.0%);mask-image:linear-gradient(90deg,rgba(0,0,0,0.084) 0.0%,rgba(0,0,0,0.070) 30.0%,rgba(0,0,0,0.035) 50.0%,rgba(0,0,0,0.000) 65.0%);left:-12%;width:112%;transform:rotate(5deg);transform-origin:100% 50%"></i></div>
<div class="p" style="left:467px;top:119px;width:354px;height:165px;background:#030100"><i style="top:68.8px;height:24.0px;background:linear-gradient(rgba(255,128,0,0.00) 0%,rgba(255,128,0,0.31) 10%,rgba(255,128,0,0.59) 20%,rgba(255,128,0,0.81) 30%,rgba(255,128,0,0.95) 40%,rgba(255,128,0,1.00) 50%,rgba(255,128,0,0.95) 60%,rgba(255,128,0,0.81) 70%,rgba(255,128,0,0.59) 80%,rgba(255,128,0,0.31) 90%,rgba(255,128,0,0.00) 100%);-webkit-mask-image:linear-gradient(90deg,rgba(0,0,0,0.750) 0.0%,rgba(0,0,0,0.850) 15.0%,rgba(0,0,0,0.930) 30.0%,rgba(0,0,0,0.860) 50.0%,rgba(0,0,0,0.780) 75.0%,rgba(0,0,0,0.720) 100.0%);mask-image:linear-gradient(90deg,rgba(0,0,0,0.750) 0.0%,rgba(0,0,0,0.850) 15.0%,rgba(0,0,0,0.930) 30.0%,rgba(0,0,0,0.860) 50.0%,rgba(0,0,0,0.780) 75.0%,rgba(0,0,0,0.720) 100.0%)"></i><i style="top:57.9px;height:13.0px;background:linear-gradient(rgba(255,128,0,0.00) 0%,rgba(255,128,0,0.31) 10%,rgba(255,128,0,0.59) 20%,rgba(255,128,0,0.81) 30%,rgba(255,128,0,0.95) 40%,rgba(255,128,0,1.00) 50%,rgba(255,128,0,0.95) 60%,rgba(255,128,0,0.81) 70%,rgba(255,128,0,0.59) 80%,rgba(255,128,0,0.31) 90%,rgba(255,128,0,0.00) 100%);-webkit-mask-image:linear-gradient(90deg,rgba(0,0,0,0.280) 0.0%,rgba(0,0,0,0.340) 30.0%,rgba(0,0,0,0.300) 60.0%,rgba(0,0,0,0.260) 100.0%);mask-image:linear-gradient(90deg,rgba(0,0,0,0.280) 0.0%,rgba(0,0,0,0.340) 30.0%,rgba(0,0,0,0.300) 60.0%,rgba(0,0,0,0.260) 100.0%)"></i><i style="top:45.1px;height:12.0px;background:linear-gradient(rgba(255,128,0,0.00) 0%,rgba(255,128,0,0.31) 10%,rgba(255,128,0,0.59) 20%,rgba(255,128,0,0.81) 30%,rgba(255,128,0,0.95) 40%,rgba(255,128,0,1.00) 50%,rgba(255,128,0,0.95) 60%,rgba(255,128,0,0.81) 70%,rgba(255,128,0,0.59) 80%,rgba(255,128,0,0.31) 90%,rgba(255,128,0,0.00) 100%);-webkit-mask-image:linear-gradient(90deg,rgba(0,0,0,0.140) 0.0%,rgba(0,0,0,0.200) 30.0%,rgba(0,0,0,0.200) 60.0%,rgba(0,0,0,0.180) 100.0%);mask-image:linear-gradient(90deg,rgba(0,0,0,0.140) 0.0%,rgba(0,0,0,0.200) 30.0%,rgba(0,0,0,0.200) 60.0%,rgba(0,0,0,0.180) 100.0%)"></i><i style="top:90.0px;height:13.0px;background:linear-gradient(rgba(255,128,0,0.00) 0%,rgba(255,128,0,0.31) 10%,rgba(255,128,0,0.59) 20%,rgba(255,128,0,0.81) 30%,rgba(255,128,0,0.95) 40%,rgba(255,128,0,1.00) 50%,rgba(255,128,0,0.95) 60%,rgba(255,128,0,0.81) 70%,rgba(255,128,0,0.59) 80%,rgba(255,128,0,0.31) 90%,rgba(255,128,0,0.00) 100%);-webkit-mask-image:linear-gradient(90deg,rgba(0,0,0,0.240) 0.0%,rgba(0,0,0,0.300) 30.0%,rgba(0,0,0,0.280) 60.0%,rgba(0,0,0,0.240) 100.0%);mask-image:linear-gradient(90deg,rgba(0,0,0,0.240) 0.0%,rgba(0,0,0,0.300) 30.0%,rgba(0,0,0,0.280) 60.0%,rgba(0,0,0,0.240) 100.0%)"></i><i style="top:103.7px;height:12.0px;background:linear-gradient(rgba(255,128,0,0.00) 0%,rgba(255,128,0,0.31) 10%,rgba(255,128,0,0.59) 20%,rgba(255,128,0,0.81) 30%,rgba(255,128,0,0.95) 40%,rgba(255,128,0,1.00) 50%,rgba(255,128,0,0.95) 60%,rgba(255,128,0,0.81) 70%,rgba(255,128,0,0.59) 80%,rgba(255,128,0,0.31) 90%,rgba(255,128,0,0.00) 100%);-webkit-mask-image:linear-gradient(90deg,rgba(0,0,0,0.140) 0.0%,rgba(0,0,0,0.220) 30.0%,rgba(0,0,0,0.200) 60.0%,rgba(0,0,0,0.160) 100.0%);mask-image:linear-gradient(90deg,rgba(0,0,0,0.140) 0.0%,rgba(0,0,0,0.220) 30.0%,rgba(0,0,0,0.200) 60.0%,rgba(0,0,0,0.160) 100.0%)"></i><i style="top:32.8px;height:12.0px;background:linear-gradient(rgba(255,128,0,0.00) 0%,rgba(255,128,0,0.31) 10%,rgba(255,128,0,0.59) 20%,rgba(255,128,0,0.81) 30%,rgba(255,128,0,0.95) 40%,rgba(255,128,0,1.00) 50%,rgba(255,128,0,0.95) 60%,rgba(255,128,0,0.81) 70%,rgba(255,128,0,0.59) 80%,rgba(255,128,0,0.31) 90%,rgba(255,128,0,0.00) 100%);-webkit-mask-image:linear-gradient(90deg,rgba(0,0,0,0.060) 0.0%,rgba(0,0,0,0.080) 50.0%,rgba(0,0,0,0.100) 100.0%);mask-image:linear-gradient(90deg,rgba(0,0,0,0.060) 0.0%,rgba(0,0,0,0.080) 50.0%,rgba(0,0,0,0.100) 100.0%)"></i><i style="top:116.1px;height:12.0px;background:linear-gradient(rgba(255,128,0,0.00) 0%,rgba(255,128,0,0.31) 10%,rgba(255,128,0,0.59) 20%,rgba(255,128,0,0.81) 30%,rgba(255,128,0,0.95) 40%,rgba(255,128,0,1.00) 50%,rgba(255,128,0,0.95) 60%,rgba(255,128,0,0.81) 70%,rgba(255,128,0,0.59) 80%,rgba(255,128,0,0.31) 90%,rgba(255,128,0,0.00) 100%);-webkit-mask-image:linear-gradient(90deg,rgba(0,0,0,0.080) 0.0%,rgba(0,0,0,0.080) 50.0%,rgba(0,0,0,0.080) 100.0%);mask-image:linear-gradient(90deg,rgba(0,0,0,0.080) 0.0%,rgba(0,0,0,0.080) 50.0%,rgba(0,0,0,0.080) 100.0%)"></i><i style="top:1.4px;height:40.0px;background:linear-gradient(rgba(255,128,0,0.00) 0%,rgba(255,128,0,0.31) 10%,rgba(255,128,0,0.59) 20%,rgba(255,128,0,0.81) 30%,rgba(255,128,0,0.95) 40%,rgba(255,128,0,1.00) 50%,rgba(255,128,0,0.95) 60%,rgba(255,128,0,0.81) 70%,rgba(255,128,0,0.59) 80%,rgba(255,128,0,0.31) 90%,rgba(255,128,0,0.00) 100%);-webkit-mask-image:linear-gradient(90deg,rgba(0,0,0,0.030) 0.0%,rgba(0,0,0,0.040) 50.0%,rgba(0,0,0,0.100) 80.0%,rgba(0,0,0,0.140) 100.0%);mask-image:linear-gradient(90deg,rgba(0,0,0,0.030) 0.0%,rgba(0,0,0,0.040) 50.0%,rgba(0,0,0,0.100) 80.0%,rgba(0,0,0,0.140) 100.0%)"></i><i style="top:119.4px;height:45.0px;background:linear-gradient(rgba(255,128,0,0.00) 0%,rgba(255,128,0,0.31) 10%,rgba(255,128,0,0.59) 20%,rgba(255,128,0,0.81) 30%,rgba(255,128,0,0.95) 40%,rgba(255,128,0,1.00) 50%,rgba(255,128,0,0.95) 60%,rgba(255,128,0,0.81) 70%,rgba(255,128,0,0.59) 80%,rgba(255,128,0,0.31) 90%,rgba(255,128,0,0.00) 100%);-webkit-mask-image:linear-gradient(90deg,rgba(0,0,0,0.100) 0.0%,rgba(0,0,0,0.060) 30.0%,rgba(0,0,0,0.060) 60.0%,rgba(0,0,0,0.140) 100.0%);mask-image:linear-gradient(90deg,rgba(0,0,0,0.100) 0.0%,rgba(0,0,0,0.060) 30.0%,rgba(0,0,0,0.060) 60.0%,rgba(0,0,0,0.140) 100.0%)"></i></div>
<div class="p" style="left:467px;top:291px;width:354px;height:166px;background:#040200"><i style="top:66.2px;height:17.0px;background:linear-gradient(rgba(255,128,0,0.00) 0%,rgba(255,128,0,0.31) 10%,rgba(255,128,0,0.59) 20%,rgba(255,128,0,0.81) 30%,rgba(255,128,0,0.95) 40%,rgba(255,128,0,1.00) 50%,rgba(255,128,0,0.95) 60%,rgba(255,128,0,0.81) 70%,rgba(255,128,0,0.59) 80%,rgba(255,128,0,0.31) 90%,rgba(255,128,0,0.00) 100%);-webkit-mask-image:linear-gradient(90deg,rgba(0,0,0,0.750) 0.0%,rgba(0,0,0,0.850) 15.0%,rgba(0,0,0,0.900) 35.0%,rgba(0,0,0,0.800) 60.0%,rgba(0,0,0,0.660) 100.0%);mask-image:linear-gradient(90deg,rgba(0,0,0,0.750) 0.0%,rgba(0,0,0,0.850) 15.0%,rgba(0,0,0,0.900) 35.0%,rgba(0,0,0,0.800) 60.0%,rgba(0,0,0,0.660) 100.0%)"></i><i style="top:81.1px;height:17.0px;background:linear-gradient(rgba(255,128,0,0.00) 0%,rgba(255,128,0,0.31) 10%,rgba(255,128,0,0.59) 20%,rgba(255,128,0,0.81) 30%,rgba(255,128,0,0.95) 40%,rgba(255,128,0,1.00) 50%,rgba(255,128,0,0.95) 60%,rgba(255,128,0,0.81) 70%,rgba(255,128,0,0.59) 80%,rgba(255,128,0,0.31) 90%,rgba(255,128,0,0.00) 100%);-webkit-mask-image:linear-gradient(90deg,rgba(0,0,0,0.750) 0.0%,rgba(0,0,0,0.850) 15.0%,rgba(0,0,0,0.900) 35.0%,rgba(0,0,0,0.800) 60.0%,rgba(0,0,0,0.660) 100.0%);mask-image:linear-gradient(90deg,rgba(0,0,0,0.750) 0.0%,rgba(0,0,0,0.850) 15.0%,rgba(0,0,0,0.900) 35.0%,rgba(0,0,0,0.800) 60.0%,rgba(0,0,0,0.660) 100.0%)"></i><i style="top:52.8px;height:14.0px;background:linear-gradient(rgba(255,128,0,0.00) 0%,rgba(255,128,0,0.31) 10%,rgba(255,128,0,0.59) 20%,rgba(255,128,0,0.81) 30%,rgba(255,128,0,0.95) 40%,rgba(255,128,0,1.00) 50%,rgba(255,128,0,0.95) 60%,rgba(255,128,0,0.81) 70%,rgba(255,128,0,0.59) 80%,rgba(255,128,0,0.31) 90%,rgba(255,128,0,0.00) 100%);-webkit-mask-image:linear-gradient(90deg,rgba(0,0,0,0.380) 0.0%,rgba(0,0,0,0.440) 30.0%,rgba(0,0,0,0.380) 60.0%,rgba(0,0,0,0.300) 100.0%);mask-image:linear-gradient(90deg,rgba(0,0,0,0.380) 0.0%,rgba(0,0,0,0.440) 30.0%,rgba(0,0,0,0.380) 60.0%,rgba(0,0,0,0.300) 100.0%)"></i><i style="top:40.8px;height:13.0px;background:linear-gradient(rgba(255,128,0,0.00) 0%,rgba(255,128,0,0.31) 10%,rgba(255,128,0,0.59) 20%,rgba(255,128,0,0.81) 30%,rgba(255,128,0,0.95) 40%,rgba(255,128,0,1.00) 50%,rgba(255,128,0,0.95) 60%,rgba(255,128,0,0.81) 70%,rgba(255,128,0,0.59) 80%,rgba(255,128,0,0.31) 90%,rgba(255,128,0,0.00) 100%);-webkit-mask-image:linear-gradient(90deg,rgba(0,0,0,0.240) 0.0%,rgba(0,0,0,0.280) 30.0%,rgba(0,0,0,0.240) 60.0%,rgba(0,0,0,0.200) 100.0%);mask-image:linear-gradient(90deg,rgba(0,0,0,0.240) 0.0%,rgba(0,0,0,0.280) 30.0%,rgba(0,0,0,0.240) 60.0%,rgba(0,0,0,0.200) 100.0%)"></i><i style="top:97.6px;height:14.0px;background:linear-gradient(rgba(255,128,0,0.00) 0%,rgba(255,128,0,0.31) 10%,rgba(255,128,0,0.59) 20%,rgba(255,128,0,0.81) 30%,rgba(255,128,0,0.95) 40%,rgba(255,128,0,1.00) 50%,rgba(255,128,0,0.95) 60%,rgba(255,128,0,0.81) 70%,rgba(255,128,0,0.59) 80%,rgba(255,128,0,0.31) 90%,rgba(255,128,0,0.00) 100%);-webkit-mask-image:linear-gradient(90deg,rgba(0,0,0,0.360) 0.0%,rgba(0,0,0,0.420) 30.0%,rgba(0,0,0,0.360) 60.0%,rgba(0,0,0,0.280) 100.0%);mask-image:linear-gradient(90deg,rgba(0,0,0,0.360) 0.0%,rgba(0,0,0,0.420) 30.0%,rgba(0,0,0,0.360) 60.0%,rgba(0,0,0,0.280) 100.0%)"></i><i style="top:111.4px;height:13.0px;background:linear-gradient(rgba(255,128,0,0.00) 0%,rgba(255,128,0,0.31) 10%,rgba(255,128,0,0.59) 20%,rgba(255,128,0,0.81) 30%,rgba(255,128,0,0.95) 40%,rgba(255,128,0,1.00) 50%,rgba(255,128,0,0.95) 60%,rgba(255,128,0,0.81) 70%,rgba(255,128,0,0.59) 80%,rgba(255,128,0,0.31) 90%,rgba(255,128,0,0.00) 100%);-webkit-mask-image:linear-gradient(90deg,rgba(0,0,0,0.240) 0.0%,rgba(0,0,0,0.260) 30.0%,rgba(0,0,0,0.220) 60.0%,rgba(0,0,0,0.200) 100.0%);mask-image:linear-gradient(90deg,rgba(0,0,0,0.240) 0.0%,rgba(0,0,0,0.260) 30.0%,rgba(0,0,0,0.220) 60.0%,rgba(0,0,0,0.200) 100.0%)"></i><i style="top:-0.1px;height:40.0px;background:linear-gradient(rgba(255,128,0,0.00) 0%,rgba(255,128,0,0.31) 10%,rgba(255,128,0,0.59) 20%,rgba(255,128,0,0.81) 30%,rgba(255,128,0,0.95) 40%,rgba(255,128,0,1.00) 50%,rgba(255,128,0,0.95) 60%,rgba(255,128,0,0.81) 70%,rgba(255,128,0,0.59) 80%,rgba(255,128,0,0.31) 90%,rgba(255,128,0,0.00) 100%);-webkit-mask-image:linear-gradient(90deg,rgba(0,0,0,0.040) 0.0%,rgba(0,0,0,0.060) 50.0%,rgba(0,0,0,0.180) 80.0%,rgba(0,0,0,0.240) 100.0%);mask-image:linear-gradient(90deg,rgba(0,0,0,0.040) 0.0%,rgba(0,0,0,0.060) 50.0%,rgba(0,0,0,0.180) 80.0%,rgba(0,0,0,0.240) 100.0%)"></i><i style="top:120.3px;height:45.0px;background:linear-gradient(rgba(255,128,0,0.00) 0%,rgba(255,128,0,0.31) 10%,rgba(255,128,0,0.59) 20%,rgba(255,128,0,0.81) 30%,rgba(255,128,0,0.95) 40%,rgba(255,128,0,1.00) 50%,rgba(255,128,0,0.95) 60%,rgba(255,128,0,0.81) 70%,rgba(255,128,0,0.59) 80%,rgba(255,128,0,0.31) 90%,rgba(255,128,0,0.00) 100%);-webkit-mask-image:linear-gradient(90deg,rgba(0,0,0,0.220) 0.0%,rgba(0,0,0,0.140) 30.0%,rgba(0,0,0,0.120) 60.0%,rgba(0,0,0,0.240) 100.0%);mask-image:linear-gradient(90deg,rgba(0,0,0,0.220) 0.0%,rgba(0,0,0,0.140) 30.0%,rgba(0,0,0,0.120) 60.0%,rgba(0,0,0,0.240) 100.0%)"></i><i style="top:123.0px;height:13.0px;background:linear-gradient(rgba(255,128,0,0.00) 0%,rgba(255,128,0,0.31) 10%,rgba(255,128,0,0.59) 20%,rgba(255,128,0,0.81) 30%,rgba(255,128,0,0.95) 40%,rgba(255,128,0,1.00) 50%,rgba(255,128,0,0.95) 60%,rgba(255,128,0,0.81) 70%,rgba(255,128,0,0.59) 80%,rgba(255,128,0,0.31) 90%,rgba(255,128,0,0.00) 100%);-webkit-mask-image:linear-gradient(90deg,rgba(0,0,0,0.200) 0.0%,rgba(0,0,0,0.150) 30.0%,rgba(0,0,0,0.060) 60.0%,rgba(0,0,0,0.000) 100.0%);mask-image:linear-gradient(90deg,rgba(0,0,0,0.200) 0.0%,rgba(0,0,0,0.150) 30.0%,rgba(0,0,0,0.060) 60.0%,rgba(0,0,0,0.000) 100.0%);left:-12%;width:112%;transform:rotate(-3deg);transform-origin:100% 50%"></i><i style="top:30.0px;height:13.0px;background:linear-gradient(rgba(255,128,0,0.00) 0%,rgba(255,128,0,0.31) 10%,rgba(255,128,0,0.59) 20%,rgba(255,128,0,0.81) 30%,rgba(255,128,0,0.95) 40%,rgba(255,128,0,1.00) 50%,rgba(255,128,0,0.95) 60%,rgba(255,128,0,0.81) 70%,rgba(255,128,0,0.59) 80%,rgba(255,128,0,0.31) 90%,rgba(255,128,0,0.00) 100%);-webkit-mask-image:linear-gradient(90deg,rgba(0,0,0,0.120) 0.0%,rgba(0,0,0,0.080) 30.0%,rgba(0,0,0,0.030) 60.0%,rgba(0,0,0,0.000) 100.0%);mask-image:linear-gradient(90deg,rgba(0,0,0,0.120) 0.0%,rgba(0,0,0,0.080) 30.0%,rgba(0,0,0,0.030) 60.0%,rgba(0,0,0,0.000) 100.0%);left:-12%;width:112%;transform:rotate(3deg);transform-origin:100% 50%"></i></div>
<div class="p" style="left:467px;top:464px;width:354px;height:166px;background:#040200"><i style="top:-3.4px;height:60.0px;background:linear-gradient(rgba(255,128,0,0.00) 0%,rgba(255,128,0,0.31) 10%,rgba(255,128,0,0.59) 20%,rgba(255,128,0,0.81) 30%,rgba(255,128,0,0.95) 40%,rgba(255,128,0,1.00) 50%,rgba(255,128,0,0.95) 60%,rgba(255,128,0,0.81) 70%,rgba(255,128,0,0.59) 80%,rgba(255,128,0,0.31) 90%,rgba(255,128,0,0.00) 100%);-webkit-mask-image:linear-gradient(90deg,rgba(0,0,0,0.120) 0.0%,rgba(0,0,0,0.100) 30.0%,rgba(0,0,0,0.200) 60.0%,rgba(0,0,0,0.300) 100.0%);mask-image:linear-gradient(90deg,rgba(0,0,0,0.120) 0.0%,rgba(0,0,0,0.100) 30.0%,rgba(0,0,0,0.200) 60.0%,rgba(0,0,0,0.300) 100.0%)"></i><i style="top:109.4px;height:60.0px;background:linear-gradient(rgba(255,128,0,0.00) 0%,rgba(255,128,0,0.31) 10%,rgba(255,128,0,0.59) 20%,rgba(255,128,0,0.81) 30%,rgba(255,128,0,0.95) 40%,rgba(255,128,0,1.00) 50%,rgba(255,128,0,0.95) 60%,rgba(255,128,0,0.81) 70%,rgba(255,128,0,0.59) 80%,rgba(255,128,0,0.31) 90%,rgba(255,128,0,0.00) 100%);-webkit-mask-image:linear-gradient(90deg,rgba(0,0,0,0.200) 0.0%,rgba(0,0,0,0.120) 30.0%,rgba(0,0,0,0.200) 60.0%,rgba(0,0,0,0.300) 100.0%);mask-image:linear-gradient(90deg,rgba(0,0,0,0.200) 0.0%,rgba(0,0,0,0.120) 30.0%,rgba(0,0,0,0.200) 60.0%,rgba(0,0,0,0.300) 100.0%)"></i><i style="top:60.5px;height:20.0px;background:linear-gradient(rgba(255,128,0,0.00) 0%,rgba(255,128,0,0.31) 10%,rgba(255,128,0,0.59) 20%,rgba(255,128,0,0.81) 30%,rgba(255,128,0,0.95) 40%,rgba(255,128,0,1.00) 50%,rgba(255,128,0,0.95) 60%,rgba(255,128,0,0.81) 70%,rgba(255,128,0,0.59) 80%,rgba(255,128,0,0.31) 90%,rgba(255,128,0,0.00) 100%);-webkit-mask-image:linear-gradient(90deg,rgba(0,0,0,0.800) 0.0%,rgba(0,0,0,0.900) 20.0%,rgba(0,0,0,0.900) 40.0%,rgba(0,0,0,0.780) 70.0%,rgba(0,0,0,0.660) 100.0%);mask-image:linear-gradient(90deg,rgba(0,0,0,0.800) 0.0%,rgba(0,0,0,0.900) 20.0%,rgba(0,0,0,0.900) 40.0%,rgba(0,0,0,0.780) 70.0%,rgba(0,0,0,0.660) 100.0%)"></i><i style="top:83.8px;height:20.0px;background:linear-gradient(rgba(255,128,0,0.00) 0%,rgba(255,128,0,0.31) 10%,rgba(255,128,0,0.59) 20%,rgba(255,128,0,0.81) 30%,rgba(255,128,0,0.95) 40%,rgba(255,128,0,1.00) 50%,rgba(255,128,0,0.95) 60%,rgba(255,128,0,0.81) 70%,rgba(255,128,0,0.59) 80%,rgba(255,128,0,0.31) 90%,rgba(255,128,0,0.00) 100%);-webkit-mask-image:linear-gradient(90deg,rgba(0,0,0,0.800) 0.0%,rgba(0,0,0,0.900) 20.0%,rgba(0,0,0,0.900) 40.0%,rgba(0,0,0,0.780) 70.0%,rgba(0,0,0,0.660) 100.0%);mask-image:linear-gradient(90deg,rgba(0,0,0,0.800) 0.0%,rgba(0,0,0,0.900) 20.0%,rgba(0,0,0,0.900) 40.0%,rgba(0,0,0,0.780) 70.0%,rgba(0,0,0,0.660) 100.0%)"></i><i style="top:47.8px;height:14.0px;background:linear-gradient(rgba(255,128,0,0.00) 0%,rgba(255,128,0,0.31) 10%,rgba(255,128,0,0.59) 20%,rgba(255,128,0,0.81) 30%,rgba(255,128,0,0.95) 40%,rgba(255,128,0,1.00) 50%,rgba(255,128,0,0.95) 60%,rgba(255,128,0,0.81) 70%,rgba(255,128,0,0.59) 80%,rgba(255,128,0,0.31) 90%,rgba(255,128,0,0.00) 100%);-webkit-mask-image:linear-gradient(90deg,rgba(0,0,0,0.450) 0.0%,rgba(0,0,0,0.520) 30.0%,rgba(0,0,0,0.450) 60.0%,rgba(0,0,0,0.300) 100.0%);mask-image:linear-gradient(90deg,rgba(0,0,0,0.450) 0.0%,rgba(0,0,0,0.520) 30.0%,rgba(0,0,0,0.450) 60.0%,rgba(0,0,0,0.300) 100.0%)"></i><i style="top:35.0px;height:13.0px;background:linear-gradient(rgba(255,128,0,0.00) 0%,rgba(255,128,0,0.31) 10%,rgba(255,128,0,0.59) 20%,rgba(255,128,0,0.81) 30%,rgba(255,128,0,0.95) 40%,rgba(255,128,0,1.00) 50%,rgba(255,128,0,0.95) 60%,rgba(255,128,0,0.81) 70%,rgba(255,128,0,0.59) 80%,rgba(255,128,0,0.31) 90%,rgba(255,128,0,0.00) 100%);-webkit-mask-image:linear-gradient(90deg,rgba(0,0,0,0.300) 0.0%,rgba(0,0,0,0.320) 30.0%,rgba(0,0,0,0.220) 60.0%,rgba(0,0,0,0.100) 100.0%);mask-image:linear-gradient(90deg,rgba(0,0,0,0.300) 0.0%,rgba(0,0,0,0.320) 30.0%,rgba(0,0,0,0.220) 60.0%,rgba(0,0,0,0.100) 100.0%);left:-12%;width:112%;transform:rotate(1.5deg);transform-origin:100% 50%"></i><i style="top:22.2px;height:12.0px;background:linear-gradient(rgba(255,128,0,0.00) 0%,rgba(255,128,0,0.31) 10%,rgba(255,128,0,0.59) 20%,rgba(255,128,0,0.81) 30%,rgba(255,128,0,0.95) 40%,rgba(255,128,0,1.00) 50%,rgba(255,128,0,0.95) 60%,rgba(255,128,0,0.81) 70%,rgba(255,128,0,0.59) 80%,rgba(255,128,0,0.31) 90%,rgba(255,128,0,0.00) 100%);-webkit-mask-image:linear-gradient(90deg,rgba(0,0,0,0.250) 0.0%,rgba(0,0,0,0.180) 30.0%,rgba(0,0,0,0.080) 60.0%,rgba(0,0,0,0.000) 100.0%);mask-image:linear-gradient(90deg,rgba(0,0,0,0.250) 0.0%,rgba(0,0,0,0.180) 30.0%,rgba(0,0,0,0.080) 60.0%,rgba(0,0,0,0.000) 100.0%);left:-12%;width:112%;transform:rotate(3deg);transform-origin:100% 50%"></i><i style="top:101.7px;height:14.0px;background:linear-gradient(rgba(255,128,0,0.00) 0%,rgba(255,128,0,0.31) 10%,rgba(255,128,0,0.59) 20%,rgba(255,128,0,0.81) 30%,rgba(255,128,0,0.95) 40%,rgba(255,128,0,1.00) 50%,rgba(255,128,0,0.95) 60%,rgba(255,128,0,0.81) 70%,rgba(255,128,0,0.59) 80%,rgba(255,128,0,0.31) 90%,rgba(255,128,0,0.00) 100%);-webkit-mask-image:linear-gradient(90deg,rgba(0,0,0,0.450) 0.0%,rgba(0,0,0,0.480) 30.0%,rgba(0,0,0,0.400) 60.0%,rgba(0,0,0,0.280) 100.0%);mask-image:linear-gradient(90deg,rgba(0,0,0,0.450) 0.0%,rgba(0,0,0,0.480) 30.0%,rgba(0,0,0,0.400) 60.0%,rgba(0,0,0,0.280) 100.0%)"></i><i style="top:114.7px;height:13.0px;background:linear-gradient(rgba(255,128,0,0.00) 0%,rgba(255,128,0,0.31) 10%,rgba(255,128,0,0.59) 20%,rgba(255,128,0,0.81) 30%,rgba(255,128,0,0.95) 40%,rgba(255,128,0,1.00) 50%,rgba(255,128,0,0.95) 60%,rgba(255,128,0,0.81) 70%,rgba(255,128,0,0.59) 80%,rgba(255,128,0,0.31) 90%,rgba(255,128,0,0.00) 100%);-webkit-mask-image:linear-gradient(90deg,rgba(0,0,0,0.320) 0.0%,rgba(0,0,0,0.320) 30.0%,rgba(0,0,0,0.220) 60.0%,rgba(0,0,0,0.100) 100.0%);mask-image:linear-gradient(90deg,rgba(0,0,0,0.320) 0.0%,rgba(0,0,0,0.320) 30.0%,rgba(0,0,0,0.220) 60.0%,rgba(0,0,0,0.100) 100.0%);left:-12%;width:112%;transform:rotate(-1.5deg);transform-origin:100% 50%"></i><i style="top:128.5px;height:12.0px;background:linear-gradient(rgba(255,128,0,0.00) 0%,rgba(255,128,0,0.31) 10%,rgba(255,128,0,0.59) 20%,rgba(255,128,0,0.81) 30%,rgba(255,128,0,0.95) 40%,rgba(255,128,0,1.00) 50%,rgba(255,128,0,0.95) 60%,rgba(255,128,0,0.81) 70%,rgba(255,128,0,0.59) 80%,rgba(255,128,0,0.31) 90%,rgba(255,128,0,0.00) 100%);-webkit-mask-image:linear-gradient(90deg,rgba(0,0,0,0.300) 0.0%,rgba(0,0,0,0.200) 30.0%,rgba(0,0,0,0.080) 60.0%,rgba(0,0,0,0.000) 100.0%);mask-image:linear-gradient(90deg,rgba(0,0,0,0.300) 0.0%,rgba(0,0,0,0.200) 30.0%,rgba(0,0,0,0.080) 60.0%,rgba(0,0,0,0.000) 100.0%);left:-12%;width:112%;transform:rotate(-3deg);transform-origin:100% 50%"></i></div>
<div class="p" style="left:467px;top:637px;width:354px;height:166px;background:#050200"><i style="top:-5.9px;height:55.0px;background:linear-gradient(rgba(255,128,0,0.00) 0%,rgba(255,128,0,0.31) 10%,rgba(255,128,0,0.59) 20%,rgba(255,128,0,0.81) 30%,rgba(255,128,0,0.95) 40%,rgba(255,128,0,1.00) 50%,rgba(255,128,0,0.95) 60%,rgba(255,128,0,0.81) 70%,rgba(255,128,0,0.59) 80%,rgba(255,128,0,0.31) 90%,rgba(255,128,0,0.00) 100%);-webkit-mask-image:linear-gradient(90deg,rgba(0,0,0,0.100) 0.0%,rgba(0,0,0,0.120) 30.0%,rgba(0,0,0,0.250) 60.0%,rgba(0,0,0,0.350) 100.0%);mask-image:linear-gradient(90deg,rgba(0,0,0,0.100) 0.0%,rgba(0,0,0,0.120) 30.0%,rgba(0,0,0,0.250) 60.0%,rgba(0,0,0,0.350) 100.0%)"></i><i style="top:116.9px;height:55.0px;background:linear-gradient(rgba(255,128,0,0.00) 0%,rgba(255,128,0,0.31) 10%,rgba(255,128,0,0.59) 20%,rgba(255,128,0,0.81) 30%,rgba(255,128,0,0.95) 40%,rgba(255,128,0,1.00) 50%,rgba(255,128,0,0.95) 60%,rgba(255,128,0,0.81) 70%,rgba(255,128,0,0.59) 80%,rgba(255,128,0,0.31) 90%,rgba(255,128,0,0.00) 100%);-webkit-mask-image:linear-gradient(90deg,rgba(0,0,0,0.250) 0.0%,rgba(0,0,0,0.150) 30.0%,rgba(0,0,0,0.250) 60.0%,rgba(0,0,0,0.350) 100.0%);mask-image:linear-gradient(90deg,rgba(0,0,0,0.250) 0.0%,rgba(0,0,0,0.150) 30.0%,rgba(0,0,0,0.250) 60.0%,rgba(0,0,0,0.350) 100.0%)"></i><i style="top:54.4px;height:24.0px;background:linear-gradient(rgba(255,128,0,0.00) 0%,rgba(255,128,0,0.31) 10%,rgba(255,128,0,0.59) 20%,rgba(255,128,0,0.81) 30%,rgba(255,128,0,0.95) 40%,rgba(255,128,0,1.00) 50%,rgba(255,128,0,0.95) 60%,rgba(255,128,0,0.81) 70%,rgba(255,128,0,0.59) 80%,rgba(255,128,0,0.31) 90%,rgba(255,128,0,0.00) 100%);-webkit-mask-image:linear-gradient(90deg,rgba(0,0,0,0.850) 0.0%,rgba(0,0,0,0.920) 20.0%,rgba(0,0,0,0.880) 45.0%,rgba(0,0,0,0.720) 70.0%,rgba(0,0,0,0.580) 100.0%);mask-image:linear-gradient(90deg,rgba(0,0,0,0.850) 0.0%,rgba(0,0,0,0.920) 20.0%,rgba(0,0,0,0.880) 45.0%,rgba(0,0,0,0.720) 70.0%,rgba(0,0,0,0.580) 100.0%)"></i><i style="top:85.1px;height:24.0px;background:linear-gradient(rgba(255,128,0,0.00) 0%,rgba(255,128,0,0.31) 10%,rgba(255,128,0,0.59) 20%,rgba(255,128,0,0.81) 30%,rgba(255,128,0,0.95) 40%,rgba(255,128,0,1.00) 50%,rgba(255,128,0,0.95) 60%,rgba(255,128,0,0.81) 70%,rgba(255,128,0,0.59) 80%,rgba(255,128,0,0.31) 90%,rgba(255,128,0,0.00) 100%);-webkit-mask-image:linear-gradient(90deg,rgba(0,0,0,0.850) 0.0%,rgba(0,0,0,0.920) 20.0%,rgba(0,0,0,0.880) 45.0%,rgba(0,0,0,0.720) 70.0%,rgba(0,0,0,0.580) 100.0%);mask-image:linear-gradient(90deg,rgba(0,0,0,0.850) 0.0%,rgba(0,0,0,0.920) 20.0%,rgba(0,0,0,0.880) 45.0%,rgba(0,0,0,0.720) 70.0%,rgba(0,0,0,0.580) 100.0%)"></i><i style="top:42.8px;height:14.0px;background:linear-gradient(rgba(255,128,0,0.00) 0%,rgba(255,128,0,0.31) 10%,rgba(255,128,0,0.59) 20%,rgba(255,128,0,0.81) 30%,rgba(255,128,0,0.95) 40%,rgba(255,128,0,1.00) 50%,rgba(255,128,0,0.95) 60%,rgba(255,128,0,0.81) 70%,rgba(255,128,0,0.59) 80%,rgba(255,128,0,0.31) 90%,rgba(255,128,0,0.00) 100%);-webkit-mask-image:linear-gradient(90deg,rgba(0,0,0,0.500) 0.0%,rgba(0,0,0,0.550) 30.0%,rgba(0,0,0,0.450) 60.0%,rgba(0,0,0,0.300) 100.0%);mask-image:linear-gradient(90deg,rgba(0,0,0,0.500) 0.0%,rgba(0,0,0,0.550) 30.0%,rgba(0,0,0,0.450) 60.0%,rgba(0,0,0,0.300) 100.0%)"></i><i style="top:30.0px;height:13.0px;background:linear-gradient(rgba(255,128,0,0.00) 0%,rgba(255,128,0,0.31) 10%,rgba(255,128,0,0.59) 20%,rgba(255,128,0,0.81) 30%,rgba(255,128,0,0.95) 40%,rgba(255,128,0,1.00) 50%,rgba(255,128,0,0.95) 60%,rgba(255,128,0,0.81) 70%,rgba(255,128,0,0.59) 80%,rgba(255,128,0,0.31) 90%,rgba(255,128,0,0.00) 100%);-webkit-mask-image:linear-gradient(90deg,rgba(0,0,0,0.400) 0.0%,rgba(0,0,0,0.380) 30.0%,rgba(0,0,0,0.250) 60.0%,rgba(0,0,0,0.100) 100.0%);mask-image:linear-gradient(90deg,rgba(0,0,0,0.400) 0.0%,rgba(0,0,0,0.380) 30.0%,rgba(0,0,0,0.250) 60.0%,rgba(0,0,0,0.100) 100.0%);left:-12%;width:112%;transform:rotate(1.5deg);transform-origin:100% 50%"></i><i style="top:18.9px;height:12.0px;background:linear-gradient(rgba(255,128,0,0.00) 0%,rgba(255,128,0,0.31) 10%,rgba(255,128,0,0.59) 20%,rgba(255,128,0,0.81) 30%,rgba(255,128,0,0.95) 40%,rgba(255,128,0,1.00) 50%,rgba(255,128,0,0.95) 60%,rgba(255,128,0,0.81) 70%,rgba(255,128,0,0.59) 80%,rgba(255,128,0,0.31) 90%,rgba(255,128,0,0.00) 100%);-webkit-mask-image:linear-gradient(90deg,rgba(0,0,0,0.300) 0.0%,rgba(0,0,0,0.220) 30.0%,rgba(0,0,0,0.080) 60.0%,rgba(0,0,0,0.000) 100.0%);mask-image:linear-gradient(90deg,rgba(0,0,0,0.300) 0.0%,rgba(0,0,0,0.220) 30.0%,rgba(0,0,0,0.080) 60.0%,rgba(0,0,0,0.000) 100.0%);left:-12%;width:112%;transform:rotate(3deg);transform-origin:100% 50%"></i><i style="top:105.1px;height:14.0px;background:linear-gradient(rgba(255,128,0,0.00) 0%,rgba(255,128,0,0.31) 10%,rgba(255,128,0,0.59) 20%,rgba(255,128,0,0.81) 30%,rgba(255,128,0,0.95) 40%,rgba(255,128,0,1.00) 50%,rgba(255,128,0,0.95) 60%,rgba(255,128,0,0.81) 70%,rgba(255,128,0,0.59) 80%,rgba(255,128,0,0.31) 90%,rgba(255,128,0,0.00) 100%);-webkit-mask-image:linear-gradient(90deg,rgba(0,0,0,0.500) 0.0%,rgba(0,0,0,0.520) 30.0%,rgba(0,0,0,0.420) 60.0%,rgba(0,0,0,0.300) 100.0%);mask-image:linear-gradient(90deg,rgba(0,0,0,0.500) 0.0%,rgba(0,0,0,0.520) 30.0%,rgba(0,0,0,0.420) 60.0%,rgba(0,0,0,0.300) 100.0%)"></i><i style="top:118.8px;height:13.0px;background:linear-gradient(rgba(255,128,0,0.00) 0%,rgba(255,128,0,0.31) 10%,rgba(255,128,0,0.59) 20%,rgba(255,128,0,0.81) 30%,rgba(255,128,0,0.95) 40%,rgba(255,128,0,1.00) 50%,rgba(255,128,0,0.95) 60%,rgba(255,128,0,0.81) 70%,rgba(255,128,0,0.59) 80%,rgba(255,128,0,0.31) 90%,rgba(255,128,0,0.00) 100%);-webkit-mask-image:linear-gradient(90deg,rgba(0,0,0,0.380) 0.0%,rgba(0,0,0,0.360) 30.0%,rgba(0,0,0,0.250) 60.0%,rgba(0,0,0,0.100) 100.0%);mask-image:linear-gradient(90deg,rgba(0,0,0,0.380) 0.0%,rgba(0,0,0,0.360) 30.0%,rgba(0,0,0,0.250) 60.0%,rgba(0,0,0,0.100) 100.0%);left:-12%;width:112%;transform:rotate(-1.5deg);transform-origin:100% 50%"></i><i style="top:131.8px;height:12.0px;background:linear-gradient(rgba(255,128,0,0.00) 0%,rgba(255,128,0,0.31) 10%,rgba(255,128,0,0.59) 20%,rgba(255,128,0,0.81) 30%,rgba(255,128,0,0.95) 40%,rgba(255,128,0,1.00) 50%,rgba(255,128,0,0.95) 60%,rgba(255,128,0,0.81) 70%,rgba(255,128,0,0.59) 80%,rgba(255,128,0,0.31) 90%,rgba(255,128,0,0.00) 100%);-webkit-mask-image:linear-gradient(90deg,rgba(0,0,0,0.350) 0.0%,rgba(0,0,0,0.220) 30.0%,rgba(0,0,0,0.100) 60.0%,rgba(0,0,0,0.000) 100.0%);mask-image:linear-gradient(90deg,rgba(0,0,0,0.350) 0.0%,rgba(0,0,0,0.220) 30.0%,rgba(0,0,0,0.100) 60.0%,rgba(0,0,0,0.000) 100.0%);left:-12%;width:112%;transform:rotate(-3deg);transform-origin:100% 50%"></i></div>
<div class="p" style="left:467px;top:809px;width:354px;height:166px;background:#060300"><i style="top:-5.1px;height:50.0px;background:linear-gradient(rgba(255,128,0,0.00) 0%,rgba(255,128,0,0.31) 10%,rgba(255,128,0,0.59) 20%,rgba(255,128,0,0.81) 30%,rgba(255,128,0,0.95) 40%,rgba(255,128,0,1.00) 50%,rgba(255,128,0,0.95) 60%,rgba(255,128,0,0.81) 70%,rgba(255,128,0,0.59) 80%,rgba(255,128,0,0.31) 90%,rgba(255,128,0,0.00) 100%);-webkit-mask-image:linear-gradient(90deg,rgba(0,0,0,0.150) 0.0%,rgba(0,0,0,0.200) 30.0%,rgba(0,0,0,0.350) 60.0%,rgba(0,0,0,0.420) 100.0%);mask-image:linear-gradient(90deg,rgba(0,0,0,0.150) 0.0%,rgba(0,0,0,0.200) 30.0%,rgba(0,0,0,0.350) 60.0%,rgba(0,0,0,0.420) 100.0%)"></i><i style="top:113.6px;height:55.0px;background:linear-gradient(rgba(255,128,0,0.00) 0%,rgba(255,128,0,0.31) 10%,rgba(255,128,0,0.59) 20%,rgba(255,128,0,0.81) 30%,rgba(255,128,0,0.95) 40%,rgba(255,128,0,1.00) 50%,rgba(255,128,0,0.95) 60%,rgba(255,128,0,0.81) 70%,rgba(255,128,0,0.59) 80%,rgba(255,128,0,0.31) 90%,rgba(255,128,0,0.00) 100%);-webkit-mask-image:linear-gradient(90deg,rgba(0,0,0,0.300) 0.0%,rgba(0,0,0,0.220) 30.0%,rgba(0,0,0,0.320) 60.0%,rgba(0,0,0,0.400) 100.0%);mask-image:linear-gradient(90deg,rgba(0,0,0,0.300) 0.0%,rgba(0,0,0,0.220) 30.0%,rgba(0,0,0,0.320) 60.0%,rgba(0,0,0,0.400) 100.0%)"></i><i style="top:49.2px;height:26.0px;background:linear-gradient(rgba(255,128,0,0.00) 0%,rgba(255,128,0,0.31) 10%,rgba(255,128,0,0.59) 20%,rgba(255,128,0,0.81) 30%,rgba(255,128,0,0.95) 40%,rgba(255,128,0,1.00) 50%,rgba(255,128,0,0.95) 60%,rgba(255,128,0,0.81) 70%,rgba(255,128,0,0.59) 80%,rgba(255,128,0,0.31) 90%,rgba(255,128,0,0.00) 100%);-webkit-mask-image:linear-gradient(90deg,rgba(0,0,0,0.880) 0.0%,rgba(0,0,0,0.950) 15.0%,rgba(0,0,0,0.920) 40.0%,rgba(0,0,0,0.700) 70.0%,rgba(0,0,0,0.480) 100.0%);mask-image:linear-gradient(90deg,rgba(0,0,0,0.880) 0.0%,rgba(0,0,0,0.950) 15.0%,rgba(0,0,0,0.920) 40.0%,rgba(0,0,0,0.700) 70.0%,rgba(0,0,0,0.480) 100.0%);left:-12%;width:112%;transform:rotate(1deg);transform-origin:100% 50%"></i><i style="top:86.6px;height:26.0px;background:linear-gradient(rgba(255,128,0,0.00) 0%,rgba(255,128,0,0.31) 10%,rgba(255,128,0,0.59) 20%,rgba(255,128,0,0.81) 30%,rgba(255,128,0,0.95) 40%,rgba(255,128,0,1.00) 50%,rgba(255,128,0,0.95) 60%,rgba(255,128,0,0.81) 70%,rgba(255,128,0,0.59) 80%,rgba(255,128,0,0.31) 90%,rgba(255,128,0,0.00) 100%);-webkit-mask-image:linear-gradient(90deg,rgba(0,0,0,0.880) 0.0%,rgba(0,0,0,0.950) 15.0%,rgba(0,0,0,0.900) 40.0%,rgba(0,0,0,0.700) 70.0%,rgba(0,0,0,0.550) 100.0%);mask-image:linear-gradient(90deg,rgba(0,0,0,0.880) 0.0%,rgba(0,0,0,0.950) 15.0%,rgba(0,0,0,0.900) 40.0%,rgba(0,0,0,0.700) 70.0%,rgba(0,0,0,0.550) 100.0%);left:-12%;width:112%;transform:rotate(-0.5deg);transform-origin:100% 50%"></i><i style="top:36.2px;height:14.0px;background:linear-gradient(rgba(255,128,0,0.00) 0%,rgba(255,128,0,0.31) 10%,rgba(255,128,0,0.59) 20%,rgba(255,128,0,0.81) 30%,rgba(255,128,0,0.95) 40%,rgba(255,128,0,1.00) 50%,rgba(255,128,0,0.95) 60%,rgba(255,128,0,0.81) 70%,rgba(255,128,0,0.59) 80%,rgba(255,128,0,0.31) 90%,rgba(255,128,0,0.00) 100%);-webkit-mask-image:linear-gradient(90deg,rgba(0,0,0,0.400) 0.0%,rgba(0,0,0,0.500) 20.0%,rgba(0,0,0,0.480) 50.0%,rgba(0,0,0,0.350) 80.0%,rgba(0,0,0,0.200) 100.0%);mask-image:linear-gradient(90deg,rgba(0,0,0,0.400) 0.0%,rgba(0,0,0,0.500) 20.0%,rgba(0,0,0,0.480) 50.0%,rgba(0,0,0,0.350) 80.0%,rgba(0,0,0,0.200) 100.0%);left:-12%;width:112%;transform:rotate(1.5deg);transform-origin:100% 50%"></i><i style="top:23.4px;height:13.0px;background:linear-gradient(rgba(255,128,0,0.00) 0%,rgba(255,128,0,0.31) 10%,rgba(255,128,0,0.59) 20%,rgba(255,128,0,0.81) 30%,rgba(255,128,0,0.95) 40%,rgba(255,128,0,1.00) 50%,rgba(255,128,0,0.95) 60%,rgba(255,128,0,0.81) 70%,rgba(255,128,0,0.59) 80%,rgba(255,128,0,0.31) 90%,rgba(255,128,0,0.00) 100%);-webkit-mask-image:linear-gradient(90deg,rgba(0,0,0,0.350) 0.0%,rgba(0,0,0,0.320) 30.0%,rgba(0,0,0,0.200) 60.0%,rgba(0,0,0,0.050) 100.0%);mask-image:linear-gradient(90deg,rgba(0,0,0,0.350) 0.0%,rgba(0,0,0,0.320) 30.0%,rgba(0,0,0,0.200) 60.0%,rgba(0,0,0,0.050) 100.0%);left:-12%;width:112%;transform:rotate(2.5deg);transform-origin:100% 50%"></i><i style="top:110.9px;height:14.0px;background:linear-gradient(rgba(255,128,0,0.00) 0%,rgba(255,128,0,0.31) 10%,rgba(255,128,0,0.59) 20%,rgba(255,128,0,0.81) 30%,rgba(255,128,0,0.95) 40%,rgba(255,128,0,1.00) 50%,rgba(255,128,0,0.95) 60%,rgba(255,128,0,0.81) 70%,rgba(255,128,0,0.59) 80%,rgba(255,128,0,0.31) 90%,rgba(255,128,0,0.00) 100%);-webkit-mask-image:linear-gradient(90deg,rgba(0,0,0,0.450) 0.0%,rgba(0,0,0,0.450) 30.0%,rgba(0,0,0,0.320) 60.0%,rgba(0,0,0,0.150) 100.0%);mask-image:linear-gradient(90deg,rgba(0,0,0,0.450) 0.0%,rgba(0,0,0,0.450) 30.0%,rgba(0,0,0,0.320) 60.0%,rgba(0,0,0,0.150) 100.0%);left:-12%;width:112%;transform:rotate(-1.5deg);transform-origin:100% 50%"></i><i style="top:126.3px;height:13.0px;background:linear-gradient(rgba(255,128,0,0.00) 0%,rgba(255,128,0,0.31) 10%,rgba(255,128,0,0.59) 20%,rgba(255,128,0,0.81) 30%,rgba(255,128,0,0.95) 40%,rgba(255,128,0,1.00) 50%,rgba(255,128,0,0.95) 60%,rgba(255,128,0,0.81) 70%,rgba(255,128,0,0.59) 80%,rgba(255,128,0,0.31) 90%,rgba(255,128,0,0.00) 100%);-webkit-mask-image:linear-gradient(90deg,rgba(0,0,0,0.400) 0.0%,rgba(0,0,0,0.300) 30.0%,rgba(0,0,0,0.150) 60.0%,rgba(0,0,0,0.000) 100.0%);mask-image:linear-gradient(90deg,rgba(0,0,0,0.400) 0.0%,rgba(0,0,0,0.300) 30.0%,rgba(0,0,0,0.150) 60.0%,rgba(0,0,0,0.000) 100.0%);left:-12%;width:112%;transform:rotate(-3deg);transform-origin:100% 50%"></i></div>
<div class="p" style="left:837px;top:119px;width:354px;height:165px;background:linear-gradient(rgb(14,7,0),rgb(20,10,0) 60%,rgb(12,6,0))"><i style="top:73.0px;height:19.0px;background:linear-gradient(rgba(255,128,0,0.00) 0%,rgba(255,128,0,0.31) 10%,rgba(255,128,0,0.59) 20%,rgba(255,128,0,0.81) 30%,rgba(255,128,0,0.95) 40%,rgba(255,128,0,1.00) 50%,rgba(255,128,0,0.95) 60%,rgba(255,128,0,0.81) 70%,rgba(255,128,0,0.59) 80%,rgba(255,128,0,0.31) 90%,rgba(255,128,0,0.00) 100%);-webkit-mask-image:linear-gradient(90deg,rgba(0,0,0,0.050) 0.0%,rgba(0,0,0,0.080) 20.0%,rgba(0,0,0,0.220) 32.0%,rgba(0,0,0,0.450) 50.0%,rgba(0,0,0,0.550) 65.0%,rgba(0,0,0,0.520) 85.0%,rgba(0,0,0,0.500) 100.0%);mask-image:linear-gradient(90deg,rgba(0,0,0,0.050) 0.0%,rgba(0,0,0,0.080) 20.0%,rgba(0,0,0,0.220) 32.0%,rgba(0,0,0,0.450) 50.0%,rgba(0,0,0,0.550) 65.0%,rgba(0,0,0,0.520) 85.0%,rgba(0,0,0,0.500) 100.0%)"></i><i style="top:57.9px;height:13.0px;background:linear-gradient(rgba(255,128,0,0.00) 0%,rgba(255,128,0,0.31) 10%,rgba(255,128,0,0.59) 20%,rgba(255,128,0,0.81) 30%,rgba(255,128,0,0.95) 40%,rgba(255,128,0,1.00) 50%,rgba(255,128,0,0.95) 60%,rgba(255,128,0,0.81) 70%,rgba(255,128,0,0.59) 80%,rgba(255,128,0,0.31) 90%,rgba(255,128,0,0.00) 100%);-webkit-mask-image:linear-gradient(90deg,rgba(0,0,0,0.030) 0.0%,rgba(0,0,0,0.050) 40.0%,rgba(0,0,0,0.120) 60.0%,rgba(0,0,0,0.140) 100.0%);mask-image:linear-gradient(90deg,rgba(0,0,0,0.030) 0.0%,rgba(0,0,0,0.050) 40.0%,rgba(0,0,0,0.120) 60.0%,rgba(0,0,0,0.140) 100.0%)"></i><i style="top:91.7px;height:13.0px;background:linear-gradient(rgba(255,128,0,0.00) 0%,rgba(255,128,0,0.31) 10%,rgba(255,128,0,0.59) 20%,rgba(255,128,0,0.81) 30%,rgba(255,128,0,0.95) 40%,rgba(255,128,0,1.00) 50%,rgba(255,128,0,0.95) 60%,rgba(255,128,0,0.81) 70%,rgba(255,128,0,0.59) 80%,rgba(255,128,0,0.31) 90%,rgba(255,128,0,0.00) 100%);-webkit-mask-image:linear-gradient(90deg,rgba(0,0,0,0.030) 0.0%,rgba(0,0,0,0.070) 40.0%,rgba(0,0,0,0.150) 60.0%,rgba(0,0,0,0.160) 100.0%);mask-image:linear-gradient(90deg,rgba(0,0,0,0.030) 0.0%,rgba(0,0,0,0.070) 40.0%,rgba(0,0,0,0.150) 60.0%,rgba(0,0,0,0.160) 100.0%)"></i><i style="top:41.5px;height:16.0px;background:linear-gradient(rgba(255,128,0,0.00) 0%,rgba(255,128,0,0.31) 10%,rgba(255,128,0,0.59) 20%,rgba(255,128,0,0.81) 30%,rgba(255,128,0,0.95) 40%,rgba(255,128,0,1.00) 50%,rgba(255,128,0,0.95) 60%,rgba(255,128,0,0.81) 70%,rgba(255,128,0,0.59) 80%,rgba(255,128,0,0.31) 90%,rgba(255,128,0,0.00) 100%);-webkit-mask-image:linear-gradient(90deg,rgba(0,0,0,0.050) 0.0%,rgba(0,0,0,0.070) 50.0%,rgba(0,0,0,0.080) 100.0%);mask-image:linear-gradient(90deg,rgba(0,0,0,0.050) 0.0%,rgba(0,0,0,0.070) 50.0%,rgba(0,0,0,0.080) 100.0%)"></i><i style="top:111.1px;height:22.0px;background:linear-gradient(rgba(255,128,0,0.00) 0%,rgba(255,128,0,0.31) 10%,rgba(255,128,0,0.59) 20%,rgba(255,128,0,0.81) 30%,rgba(255,128,0,0.95) 40%,rgba(255,128,0,1.00) 50%,rgba(255,128,0,0.95) 60%,rgba(255,128,0,0.81) 70%,rgba(255,128,0,0.59) 80%,rgba(255,128,0,0.31) 90%,rgba(255,128,0,0.00) 100%);-webkit-mask-image:linear-gradient(90deg,rgba(0,0,0,0.100) 0.0%,rgba(0,0,0,0.100) 20.0%,rgba(0,0,0,0.070) 40.0%,rgba(0,0,0,0.030) 60.0%,rgba(0,0,0,0.000) 100.0%);mask-image:linear-gradient(90deg,rgba(0,0,0,0.100) 0.0%,rgba(0,0,0,0.100) 20.0%,rgba(0,0,0,0.070) 40.0%,rgba(0,0,0,0.030) 60.0%,rgba(0,0,0,0.000) 100.0%);left:-12%;width:112%;transform:rotate(-4deg);transform-origin:100% 50%"></i><i style="top:129.9px;height:24.0px;background:linear-gradient(rgba(255,128,0,0.00) 0%,rgba(255,128,0,0.31) 10%,rgba(255,128,0,0.59) 20%,rgba(255,128,0,0.81) 30%,rgba(255,128,0,0.95) 40%,rgba(255,128,0,1.00) 50%,rgba(255,128,0,0.95) 60%,rgba(255,128,0,0.81) 70%,rgba(255,128,0,0.59) 80%,rgba(255,128,0,0.31) 90%,rgba(255,128,0,0.00) 100%);-webkit-mask-image:linear-gradient(90deg,rgba(0,0,0,0.080) 0.0%,rgba(0,0,0,0.070) 30.0%,rgba(0,0,0,0.030) 60.0%,rgba(0,0,0,0.020) 100.0%);mask-image:linear-gradient(90deg,rgba(0,0,0,0.080) 0.0%,rgba(0,0,0,0.070) 30.0%,rgba(0,0,0,0.030) 60.0%,rgba(0,0,0,0.020) 100.0%)"></i></div>
<div class="p" style="left:837px;top:291px;width:354px;height:166px;background:linear-gradient(90deg,rgb(26,13,0),rgb(18,9,0) 60%,rgb(10,5,0))"><i style="top:70.0px;height:16.0px;background:linear-gradient(rgba(255,128,0,0.00) 0%,rgba(255,128,0,0.31) 10%,rgba(255,128,0,0.59) 20%,rgba(255,128,0,0.81) 30%,rgba(255,128,0,0.95) 40%,rgba(255,128,0,1.00) 50%,rgba(255,128,0,0.95) 60%,rgba(255,128,0,0.81) 70%,rgba(255,128,0,0.59) 80%,rgba(255,128,0,0.31) 90%,rgba(255,128,0,0.00) 100%);-webkit-mask-image:linear-gradient(90deg,rgba(0,0,0,0.060) 0.0%,rgba(0,0,0,0.080) 30.0%,rgba(0,0,0,0.060) 40.0%,rgba(0,0,0,0.400) 50.0%,rgba(0,0,0,0.500) 65.0%,rgba(0,0,0,0.450) 80.0%,rgba(0,0,0,0.420) 100.0%);mask-image:linear-gradient(90deg,rgba(0,0,0,0.060) 0.0%,rgba(0,0,0,0.080) 30.0%,rgba(0,0,0,0.060) 40.0%,rgba(0,0,0,0.400) 50.0%,rgba(0,0,0,0.500) 65.0%,rgba(0,0,0,0.450) 80.0%,rgba(0,0,0,0.420) 100.0%)"></i><i style="top:84.6px;height:15.0px;background:linear-gradient(rgba(255,128,0,0.00) 0%,rgba(255,128,0,0.31) 10%,rgba(255,128,0,0.59) 20%,rgba(255,128,0,0.81) 30%,rgba(255,128,0,0.95) 40%,rgba(255,128,0,1.00) 50%,rgba(255,128,0,0.95) 60%,rgba(255,128,0,0.81) 70%,rgba(255,128,0,0.59) 80%,rgba(255,128,0,0.31) 90%,rgba(255,128,0,0.00) 100%);-webkit-mask-image:linear-gradient(90deg,rgba(0,0,0,0.060) 0.0%,rgba(0,0,0,0.160) 30.0%,rgba(0,0,0,0.300) 45.0%,rgba(0,0,0,0.400) 65.0%,rgba(0,0,0,0.400) 100.0%);mask-image:linear-gradient(90deg,rgba(0,0,0,0.060) 0.0%,rgba(0,0,0,0.160) 30.0%,rgba(0,0,0,0.300) 45.0%,rgba(0,0,0,0.400) 65.0%,rgba(0,0,0,0.400) 100.0%)"></i><i style="top:99.2px;height:14.0px;background:linear-gradient(rgba(255,128,0,0.00) 0%,rgba(255,128,0,0.31) 10%,rgba(255,128,0,0.59) 20%,rgba(255,128,0,0.81) 30%,rgba(255,128,0,0.95) 40%,rgba(255,128,0,1.00) 50%,rgba(255,128,0,0.95) 60%,rgba(255,128,0,0.81) 70%,rgba(255,128,0,0.59) 80%,rgba(255,128,0,0.31) 90%,rgba(255,128,0,0.00) 100%);-webkit-mask-image:linear-gradient(90deg,rgba(0,0,0,0.060) 0.0%,rgba(0,0,0,0.140) 30.0%,rgba(0,0,0,0.260) 50.0%,rgba(0,0,0,0.240) 70.0%,rgba(0,0,0,0.200) 100.0%);mask-image:linear-gradient(90deg,rgba(0,0,0,0.060) 0.0%,rgba(0,0,0,0.140) 30.0%,rgba(0,0,0,0.260) 50.0%,rgba(0,0,0,0.240) 70.0%,rgba(0,0,0,0.200) 100.0%)"></i><i style="top:56.4px;height:15.0px;background:linear-gradient(rgba(255,128,0,0.00) 0%,rgba(255,128,0,0.31) 10%,rgba(255,128,0,0.59) 20%,rgba(255,128,0,0.81) 30%,rgba(255,128,0,0.95) 40%,rgba(255,128,0,1.00) 50%,rgba(255,128,0,0.95) 60%,rgba(255,128,0,0.81) 70%,rgba(255,128,0,0.59) 80%,rgba(255,128,0,0.31) 90%,rgba(255,128,0,0.00) 100%);-webkit-mask-image:linear-gradient(90deg,rgba(0,0,0,0.050) 0.0%,rgba(0,0,0,0.060) 40.0%,rgba(0,0,0,0.150) 60.0%,rgba(0,0,0,0.180) 100.0%);mask-image:linear-gradient(90deg,rgba(0,0,0,0.050) 0.0%,rgba(0,0,0,0.060) 40.0%,rgba(0,0,0,0.150) 60.0%,rgba(0,0,0,0.180) 100.0%)"></i><i style="top:105.2px;height:22.0px;background:linear-gradient(rgba(255,128,0,0.00) 0%,rgba(255,128,0,0.31) 10%,rgba(255,128,0,0.59) 20%,rgba(255,128,0,0.81) 30%,rgba(255,128,0,0.95) 40%,rgba(255,128,0,1.00) 50%,rgba(255,128,0,0.95) 60%,rgba(255,128,0,0.81) 70%,rgba(255,128,0,0.59) 80%,rgba(255,128,0,0.31) 90%,rgba(255,128,0,0.00) 100%);-webkit-mask-image:linear-gradient(90deg,rgba(0,0,0,0.160) 0.0%,rgba(0,0,0,0.180) 20.0%,rgba(0,0,0,0.140) 40.0%,rgba(0,0,0,0.050) 60.0%,rgba(0,0,0,0.000) 100.0%);mask-image:linear-gradient(90deg,rgba(0,0,0,0.160) 0.0%,rgba(0,0,0,0.180) 20.0%,rgba(0,0,0,0.140) 40.0%,rgba(0,0,0,0.050) 60.0%,rgba(0,0,0,0.000) 100.0%);left:-12%;width:112%;transform:rotate(-5deg);transform-origin:100% 50%"></i><i style="top:123.1px;height:26.0px;background:linear-gradient(rgba(255,128,0,0.00) 0%,rgba(255,128,0,0.31) 10%,rgba(255,128,0,0.59) 20%,rgba(255,128,0,0.81) 30%,rgba(255,128,0,0.95) 40%,rgba(255,128,0,1.00) 50%,rgba(255,128,0,0.95) 60%,rgba(255,128,0,0.81) 70%,rgba(255,128,0,0.59) 80%,rgba(255,128,0,0.31) 90%,rgba(255,128,0,0.00) 100%);-webkit-mask-image:linear-gradient(90deg,rgba(0,0,0,0.100) 0.0%,rgba(0,0,0,0.080) 30.0%,rgba(0,0,0,0.040) 60.0%,rgba(0,0,0,0.020) 100.0%);mask-image:linear-gradient(90deg,rgba(0,0,0,0.100) 0.0%,rgba(0,0,0,0.080) 30.0%,rgba(0,0,0,0.040) 60.0%,rgba(0,0,0,0.020) 100.0%)"></i><i style="top:36.8px;height:16.0px;background:linear-gradient(rgba(255,128,0,0.00) 0%,rgba(255,128,0,0.31) 10%,rgba(255,128,0,0.59) 20%,rgba(255,128,0,0.81) 30%,rgba(255,128,0,0.95) 40%,rgba(255,128,0,1.00) 50%,rgba(255,128,0,0.95) 60%,rgba(255,128,0,0.81) 70%,rgba(255,128,0,0.59) 80%,rgba(255,128,0,0.31) 90%,rgba(255,128,0,0.00) 100%);-webkit-mask-image:linear-gradient(90deg,rgba(0,0,0,0.060) 0.0%,rgba(0,0,0,0.080) 40.0%,rgba(0,0,0,0.060) 70.0%,rgba(0,0,0,0.080) 100.0%);mask-image:linear-gradient(90deg,rgba(0,0,0,0.060) 0.0%,rgba(0,0,0,0.080) 40.0%,rgba(0,0,0,0.060) 70.0%,rgba(0,0,0,0.080) 100.0%)"></i></div>
<div class="p" style="left:837px;top:464px;width:354px;height:166px;background:linear-gradient(90deg,rgb(36,18,0),rgb(28,14,0) 50%,rgb(20,10,0))"><i style="top:64.0px;height:18.0px;background:linear-gradient(rgba(255,128,0,0.00) 0%,rgba(255,128,0,0.31) 10%,rgba(255,128,0,0.59) 20%,rgba(255,128,0,0.81) 30%,rgba(255,128,0,0.95) 40%,rgba(255,128,0,1.00) 50%,rgba(255,128,0,0.95) 60%,rgba(255,128,0,0.81) 70%,rgba(255,128,0,0.59) 80%,rgba(255,128,0,0.31) 90%,rgba(255,128,0,0.00) 100%);-webkit-mask-image:linear-gradient(90deg,rgba(0,0,0,0.040) 0.0%,rgba(0,0,0,0.080) 25.0%,rgba(0,0,0,0.260) 40.0%,rgba(0,0,0,0.440) 60.0%,rgba(0,0,0,0.440) 80.0%,rgba(0,0,0,0.380) 100.0%);mask-image:linear-gradient(90deg,rgba(0,0,0,0.040) 0.0%,rgba(0,0,0,0.080) 25.0%,rgba(0,0,0,0.260) 40.0%,rgba(0,0,0,0.440) 60.0%,rgba(0,0,0,0.440) 80.0%,rgba(0,0,0,0.380) 100.0%)"></i><i style="top:89.6px;height:20.0px;background:linear-gradient(rgba(255,128,0,0.00) 0%,rgba(255,128,0,0.31) 10%,rgba(255,128,0,0.59) 20%,rgba(255,128,0,0.81) 30%,rgba(255,128,0,0.95) 40%,rgba(255,128,0,1.00) 50%,rgba(255,128,0,0.95) 60%,rgba(255,128,0,0.81) 70%,rgba(255,128,0,0.59) 80%,rgba(255,128,0,0.31) 90%,rgba(255,128,0,0.00) 100%);-webkit-mask-image:linear-gradient(90deg,rgba(0,0,0,0.060) 0.0%,rgba(0,0,0,0.180) 25.0%,rgba(0,0,0,0.380) 40.0%,rgba(0,0,0,0.500) 70.0%,rgba(0,0,0,0.440) 90.0%,rgba(0,0,0,0.400) 100.0%);mask-image:linear-gradient(90deg,rgba(0,0,0,0.060) 0.0%,rgba(0,0,0,0.180) 25.0%,rgba(0,0,0,0.380) 40.0%,rgba(0,0,0,0.500) 70.0%,rgba(0,0,0,0.440) 90.0%,rgba(0,0,0,0.400) 100.0%)"></i><i style="top:107.5px;height:14.0px;background:linear-gradient(rgba(255,128,0,0.00) 0%,rgba(255,128,0,0.31) 10%,rgba(255,128,0,0.59) 20%,rgba(255,128,0,0.81) 30%,rgba(255,128,0,0.95) 40%,rgba(255,128,0,1.00) 50%,rgba(255,128,0,0.95) 60%,rgba(255,128,0,0.81) 70%,rgba(255,128,0,0.59) 80%,rgba(255,128,0,0.31) 90%,rgba(255,128,0,0.00) 100%);-webkit-mask-image:linear-gradient(90deg,rgba(0,0,0,0.050) 0.0%,rgba(0,0,0,0.120) 30.0%,rgba(0,0,0,0.200) 60.0%,rgba(0,0,0,0.180) 100.0%);mask-image:linear-gradient(90deg,rgba(0,0,0,0.050) 0.0%,rgba(0,0,0,0.120) 30.0%,rgba(0,0,0,0.200) 60.0%,rgba(0,0,0,0.180) 100.0%)"></i><i style="top:51.1px;height:14.0px;background:linear-gradient(rgba(255,128,0,0.00) 0%,rgba(255,128,0,0.31) 10%,rgba(255,128,0,0.59) 20%,rgba(255,128,0,0.81) 30%,rgba(255,128,0,0.95) 40%,rgba(255,128,0,1.00) 50%,rgba(255,128,0,0.95) 60%,rgba(255,128,0,0.81) 70%,rgba(255,128,0,0.59) 80%,rgba(255,128,0,0.31) 90%,rgba(255,128,0,0.00) 100%);-webkit-mask-image:linear-gradient(90deg,rgba(0,0,0,0.040) 0.0%,rgba(0,0,0,0.060) 40.0%,rgba(0,0,0,0.200) 70.0%,rgba(0,0,0,0.240) 100.0%);mask-image:linear-gradient(90deg,rgba(0,0,0,0.040) 0.0%,rgba(0,0,0,0.060) 40.0%,rgba(0,0,0,0.200) 70.0%,rgba(0,0,0,0.240) 100.0%)"></i><i style="top:21.9px;height:16.0px;background:linear-gradient(rgba(255,128,0,0.00) 0%,rgba(255,128,0,0.31) 10%,rgba(255,128,0,0.59) 20%,rgba(255,128,0,0.81) 30%,rgba(255,128,0,0.95) 40%,rgba(255,128,0,1.00) 50%,rgba(255,128,0,0.95) 60%,rgba(255,128,0,0.81) 70%,rgba(255,128,0,0.59) 80%,rgba(255,128,0,0.31) 90%,rgba(255,128,0,0.00) 100%);-webkit-mask-image:linear-gradient(90deg,rgba(0,0,0,0.040) 0.0%,rgba(0,0,0,0.140) 20.0%,rgba(0,0,0,0.160) 40.0%,rgba(0,0,0,0.060) 70.0%,rgba(0,0,0,0.040) 100.0%);mask-image:linear-gradient(90deg,rgba(0,0,0,0.040) 0.0%,rgba(0,0,0,0.140) 20.0%,rgba(0,0,0,0.160) 40.0%,rgba(0,0,0,0.060) 70.0%,rgba(0,0,0,0.040) 100.0%)"></i><i style="top:130.4px;height:18.0px;background:linear-gradient(rgba(255,128,0,0.00) 0%,rgba(255,128,0,0.31) 10%,rgba(255,128,0,0.59) 20%,rgba(255,128,0,0.81) 30%,rgba(255,128,0,0.95) 40%,rgba(255,128,0,1.00) 50%,rgba(255,128,0,0.95) 60%,rgba(255,128,0,0.81) 70%,rgba(255,128,0,0.59) 80%,rgba(255,128,0,0.31) 90%,rgba(255,128,0,0.00) 100%);-webkit-mask-image:linear-gradient(90deg,rgba(0,0,0,0.180) 0.0%,rgba(0,0,0,0.160) 30.0%,rgba(0,0,0,0.060) 60.0%,rgba(0,0,0,0.020) 100.0%);mask-image:linear-gradient(90deg,rgba(0,0,0,0.180) 0.0%,rgba(0,0,0,0.160) 30.0%,rgba(0,0,0,0.060) 60.0%,rgba(0,0,0,0.020) 100.0%);left:-12%;width:112%;transform:rotate(-2deg);transform-origin:100% 50%"></i></div>
<div class="p" style="left:837px;top:637px;width:354px;height:166px;background:linear-gradient(90deg,rgb(34,17,0),rgb(26,13,0) 50%,rgb(18,9,0))"><i style="top:60.7px;height:18.0px;background:linear-gradient(rgba(255,128,0,0.00) 0%,rgba(255,128,0,0.31) 10%,rgba(255,128,0,0.59) 20%,rgba(255,128,0,0.81) 30%,rgba(255,128,0,0.95) 40%,rgba(255,128,0,1.00) 50%,rgba(255,128,0,0.95) 60%,rgba(255,128,0,0.81) 70%,rgba(255,128,0,0.59) 80%,rgba(255,128,0,0.31) 90%,rgba(255,128,0,0.00) 100%);-webkit-mask-image:linear-gradient(90deg,rgba(0,0,0,0.040) 0.0%,rgba(0,0,0,0.080) 30.0%,rgba(0,0,0,0.250) 45.0%,rgba(0,0,0,0.440) 60.0%,rgba(0,0,0,0.420) 80.0%,rgba(0,0,0,0.400) 100.0%);mask-image:linear-gradient(90deg,rgba(0,0,0,0.040) 0.0%,rgba(0,0,0,0.080) 30.0%,rgba(0,0,0,0.250) 45.0%,rgba(0,0,0,0.440) 60.0%,rgba(0,0,0,0.420) 80.0%,rgba(0,0,0,0.400) 100.0%)"></i><i style="top:95.1px;height:19.0px;background:linear-gradient(rgba(255,128,0,0.00) 0%,rgba(255,128,0,0.31) 10%,rgba(255,128,0,0.59) 20%,rgba(255,128,0,0.81) 30%,rgba(255,128,0,0.95) 40%,rgba(255,128,0,1.00) 50%,rgba(255,128,0,0.95) 60%,rgba(255,128,0,0.81) 70%,rgba(255,128,0,0.59) 80%,rgba(255,128,0,0.31) 90%,rgba(255,128,0,0.00) 100%);-webkit-mask-image:linear-gradient(90deg,rgba(0,0,0,0.060) 0.0%,rgba(0,0,0,0.250) 30.0%,rgba(0,0,0,0.400) 45.0%,rgba(0,0,0,0.500) 65.0%,rgba(0,0,0,0.420) 85.0%,rgba(0,0,0,0.360) 100.0%);mask-image:linear-gradient(90deg,rgba(0,0,0,0.060) 0.0%,rgba(0,0,0,0.250) 30.0%,rgba(0,0,0,0.400) 45.0%,rgba(0,0,0,0.500) 65.0%,rgba(0,0,0,0.420) 85.0%,rgba(0,0,0,0.360) 100.0%)"></i><i style="top:47.0px;height:14.0px;background:linear-gradient(rgba(255,128,0,0.00) 0%,rgba(255,128,0,0.31) 10%,rgba(255,128,0,0.59) 20%,rgba(255,128,0,0.81) 30%,rgba(255,128,0,0.95) 40%,rgba(255,128,0,1.00) 50%,rgba(255,128,0,0.95) 60%,rgba(255,128,0,0.81) 70%,rgba(255,128,0,0.59) 80%,rgba(255,128,0,0.31) 90%,rgba(255,128,0,0.00) 100%);-webkit-mask-image:linear-gradient(90deg,rgba(0,0,0,0.040) 0.0%,rgba(0,0,0,0.060) 40.0%,rgba(0,0,0,0.220) 70.0%,rgba(0,0,0,0.280) 100.0%);mask-image:linear-gradient(90deg,rgba(0,0,0,0.040) 0.0%,rgba(0,0,0,0.060) 40.0%,rgba(0,0,0,0.220) 70.0%,rgba(0,0,0,0.280) 100.0%)"></i><i style="top:24.0px;height:15.0px;background:linear-gradient(rgba(255,128,0,0.00) 0%,rgba(255,128,0,0.31) 10%,rgba(255,128,0,0.59) 20%,rgba(255,128,0,0.81) 30%,rgba(255,128,0,0.95) 40%,rgba(255,128,0,1.00) 50%,rgba(255,128,0,0.95) 60%,rgba(255,128,0,0.81) 70%,rgba(255,128,0,0.59) 80%,rgba(255,128,0,0.31) 90%,rgba(255,128,0,0.00) 100%);-webkit-mask-image:linear-gradient(90deg,rgba(0,0,0,0.060) 0.0%,rgba(0,0,0,0.200) 20.0%,rgba(0,0,0,0.220) 40.0%,rgba(0,0,0,0.100) 70.0%,rgba(0,0,0,0.060) 100.0%);mask-image:linear-gradient(90deg,rgba(0,0,0,0.060) 0.0%,rgba(0,0,0,0.200) 20.0%,rgba(0,0,0,0.220) 40.0%,rgba(0,0,0,0.100) 70.0%,rgba(0,0,0,0.060) 100.0%)"></i><i style="top:127.1px;height:18.0px;background:linear-gradient(rgba(255,128,0,0.00) 0%,rgba(255,128,0,0.31) 10%,rgba(255,128,0,0.59) 20%,rgba(255,128,0,0.81) 30%,rgba(255,128,0,0.95) 40%,rgba(255,128,0,1.00) 50%,rgba(255,128,0,0.95) 60%,rgba(255,128,0,0.81) 70%,rgba(255,128,0,0.59) 80%,rgba(255,128,0,0.31) 90%,rgba(255,128,0,0.00) 100%);-webkit-mask-image:linear-gradient(90deg,rgba(0,0,0,0.220) 0.0%,rgba(0,0,0,0.260) 20.0%,rgba(0,0,0,0.220) 35.0%,rgba(0,0,0,0.060) 60.0%,rgba(0,0,0,0.040) 100.0%);mask-image:linear-gradient(90deg,rgba(0,0,0,0.220) 0.0%,rgba(0,0,0,0.260) 20.0%,rgba(0,0,0,0.220) 35.0%,rgba(0,0,0,0.060) 60.0%,rgba(0,0,0,0.040) 100.0%);left:-12%;width:112%;transform:rotate(-2.5deg);transform-origin:100% 50%"></i><i style="top:112.5px;height:14.0px;background:linear-gradient(rgba(255,128,0,0.00) 0%,rgba(255,128,0,0.31) 10%,rgba(255,128,0,0.59) 20%,rgba(255,128,0,0.81) 30%,rgba(255,128,0,0.95) 40%,rgba(255,128,0,1.00) 50%,rgba(255,128,0,0.95) 60%,rgba(255,128,0,0.81) 70%,rgba(255,128,0,0.59) 80%,rgba(255,128,0,0.31) 90%,rgba(255,128,0,0.00) 100%);-webkit-mask-image:linear-gradient(90deg,rgba(0,0,0,0.060) 0.0%,rgba(0,0,0,0.120) 40.0%,rgba(0,0,0,0.120) 70.0%,rgba(0,0,0,0.100) 100.0%);mask-image:linear-gradient(90deg,rgba(0,0,0,0.060) 0.0%,rgba(0,0,0,0.120) 40.0%,rgba(0,0,0,0.120) 70.0%,rgba(0,0,0,0.100) 100.0%)"></i></div>
<div class="p" style="left:837px;top:809px;width:354px;height:166px;background:linear-gradient(90deg,rgb(34,17,0),rgb(28,14,0) 50%,rgb(20,10,0))"><i style="top:54.1px;height:18.0px;background:linear-gradient(rgba(255,128,0,0.00) 0%,rgba(255,128,0,0.31) 10%,rgba(255,128,0,0.59) 20%,rgba(255,128,0,0.81) 30%,rgba(255,128,0,0.95) 40%,rgba(255,128,0,1.00) 50%,rgba(255,128,0,0.95) 60%,rgba(255,128,0,0.81) 70%,rgba(255,128,0,0.59) 80%,rgba(255,128,0,0.31) 90%,rgba(255,128,0,0.00) 100%);-webkit-mask-image:linear-gradient(90deg,rgba(0,0,0,0.050) 0.0%,rgba(0,0,0,0.120) 30.0%,rgba(0,0,0,0.340) 42.0%,rgba(0,0,0,0.440) 60.0%,rgba(0,0,0,0.440) 80.0%,rgba(0,0,0,0.420) 100.0%);mask-image:linear-gradient(90deg,rgba(0,0,0,0.050) 0.0%,rgba(0,0,0,0.120) 30.0%,rgba(0,0,0,0.340) 42.0%,rgba(0,0,0,0.440) 60.0%,rgba(0,0,0,0.440) 80.0%,rgba(0,0,0,0.420) 100.0%)"></i><i style="top:95.1px;height:19.0px;background:linear-gradient(rgba(255,128,0,0.00) 0%,rgba(255,128,0,0.31) 10%,rgba(255,128,0,0.59) 20%,rgba(255,128,0,0.81) 30%,rgba(255,128,0,0.95) 40%,rgba(255,128,0,1.00) 50%,rgba(255,128,0,0.95) 60%,rgba(255,128,0,0.81) 70%,rgba(255,128,0,0.59) 80%,rgba(255,128,0,0.31) 90%,rgba(255,128,0,0.00) 100%);-webkit-mask-image:linear-gradient(90deg,rgba(0,0,0,0.060) 0.0%,rgba(0,0,0,0.200) 30.0%,rgba(0,0,0,0.400) 45.0%,rgba(0,0,0,0.500) 65.0%,rgba(0,0,0,0.450) 85.0%,rgba(0,0,0,0.380) 100.0%);mask-image:linear-gradient(90deg,rgba(0,0,0,0.060) 0.0%,rgba(0,0,0,0.200) 30.0%,rgba(0,0,0,0.400) 45.0%,rgba(0,0,0,0.500) 65.0%,rgba(0,0,0,0.450) 85.0%,rgba(0,0,0,0.380) 100.0%)"></i><i style="top:77.7px;height:14.0px;background:linear-gradient(rgba(255,128,0,0.00) 0%,rgba(255,128,0,0.31) 10%,rgba(255,128,0,0.59) 20%,rgba(255,128,0,0.81) 30%,rgba(255,128,0,0.95) 40%,rgba(255,128,0,1.00) 50%,rgba(255,128,0,0.95) 60%,rgba(255,128,0,0.81) 70%,rgba(255,128,0,0.59) 80%,rgba(255,128,0,0.31) 90%,rgba(255,128,0,0.00) 100%);-webkit-mask-image:linear-gradient(90deg,rgba(0,0,0,0.040) 0.0%,rgba(0,0,0,0.080) 30.0%,rgba(0,0,0,0.200) 50.0%,rgba(0,0,0,0.240) 70.0%,rgba(0,0,0,0.180) 100.0%);mask-image:linear-gradient(90deg,rgba(0,0,0,0.040) 0.0%,rgba(0,0,0,0.080) 30.0%,rgba(0,0,0,0.200) 50.0%,rgba(0,0,0,0.240) 70.0%,rgba(0,0,0,0.180) 100.0%)"></i><i style="top:20.7px;height:15.0px;background:linear-gradient(rgba(255,128,0,0.00) 0%,rgba(255,128,0,0.31) 10%,rgba(255,128,0,0.59) 20%,rgba(255,128,0,0.81) 30%,rgba(255,128,0,0.95) 40%,rgba(255,128,0,1.00) 50%,rgba(255,128,0,0.95) 60%,rgba(255,128,0,0.81) 70%,rgba(255,128,0,0.59) 80%,rgba(255,128,0,0.31) 90%,rgba(255,128,0,0.00) 100%);-webkit-mask-image:linear-gradient(90deg,rgba(0,0,0,0.060) 0.0%,rgba(0,0,0,0.250) 15.0%,rgba(0,0,0,0.280) 35.0%,rgba(0,0,0,0.100) 50.0%,rgba(0,0,0,0.100) 100.0%);mask-image:linear-gradient(90deg,rgba(0,0,0,0.060) 0.0%,rgba(0,0,0,0.250) 15.0%,rgba(0,0,0,0.280) 35.0%,rgba(0,0,0,0.100) 50.0%,rgba(0,0,0,0.100) 100.0%)"></i><i style="top:35.0px;height:13.0px;background:linear-gradient(rgba(255,128,0,0.00) 0%,rgba(255,128,0,0.31) 10%,rgba(255,128,0,0.59) 20%,rgba(255,128,0,0.81) 30%,rgba(255,128,0,0.95) 40%,rgba(255,128,0,1.00) 50%,rgba(255,128,0,0.95) 60%,rgba(255,128,0,0.81) 70%,rgba(255,128,0,0.59) 80%,rgba(255,128,0,0.31) 90%,rgba(255,128,0,0.00) 100%);-webkit-mask-image:linear-gradient(90deg,rgba(0,0,0,0.040) 0.0%,rgba(0,0,0,0.060) 50.0%,rgba(0,0,0,0.200) 70.0%,rgba(0,0,0,0.250) 100.0%);mask-image:linear-gradient(90deg,rgba(0,0,0,0.040) 0.0%,rgba(0,0,0,0.060) 50.0%,rgba(0,0,0,0.200) 70.0%,rgba(0,0,0,0.250) 100.0%)"></i><i style="top:123.8px;height:18.0px;background:linear-gradient(rgba(255,128,0,0.00) 0%,rgba(255,128,0,0.31) 10%,rgba(255,128,0,0.59) 20%,rgba(255,128,0,0.81) 30%,rgba(255,128,0,0.95) 40%,rgba(255,128,0,1.00) 50%,rgba(255,128,0,0.95) 60%,rgba(255,128,0,0.81) 70%,rgba(255,128,0,0.59) 80%,rgba(255,128,0,0.31) 90%,rgba(255,128,0,0.00) 100%);-webkit-mask-image:linear-gradient(90deg,rgba(0,0,0,0.180) 0.0%,rgba(0,0,0,0.260) 15.0%,rgba(0,0,0,0.260) 35.0%,rgba(0,0,0,0.100) 60.0%,rgba(0,0,0,0.120) 100.0%);mask-image:linear-gradient(90deg,rgba(0,0,0,0.180) 0.0%,rgba(0,0,0,0.260) 15.0%,rgba(0,0,0,0.260) 35.0%,rgba(0,0,0,0.100) 60.0%,rgba(0,0,0,0.120) 100.0%);left:-12%;width:112%;transform:rotate(-2deg);transform-origin:100% 50%"></i><i style="top:142.4px;height:14.0px;background:linear-gradient(rgba(255,128,0,0.00) 0%,rgba(255,128,0,0.31) 10%,rgba(255,128,0,0.59) 20%,rgba(255,128,0,0.81) 30%,rgba(255,128,0,0.95) 40%,rgba(255,128,0,1.00) 50%,rgba(255,128,0,0.95) 60%,rgba(255,128,0,0.81) 70%,rgba(255,128,0,0.59) 80%,rgba(255,128,0,0.31) 90%,rgba(255,128,0,0.00) 100%);-webkit-mask-image:linear-gradient(90deg,rgba(0,0,0,0.060) 0.0%,rgba(0,0,0,0.080) 30.0%,rgba(0,0,0,0.220) 50.0%,rgba(0,0,0,0.160) 70.0%,rgba(0,0,0,0.060) 100.0%);mask-image:linear-gradient(90deg,rgba(0,0,0,0.060) 0.0%,rgba(0,0,0,0.080) 30.0%,rgba(0,0,0,0.220) 50.0%,rgba(0,0,0,0.160) 70.0%,rgba(0,0,0,0.060) 100.0%)"></i></div>
<div class="p" style="left:1207px;top:119px;width:354px;height:165px;background:linear-gradient(rgb(22,11,0),rgb(24,12,0) 50%,rgb(12,6,0))"><i style="top:71.5px;height:22.0px;background:linear-gradient(rgba(255,128,0,0.00) 0%,rgba(255,128,0,0.31) 10%,rgba(255,128,0,0.59) 20%,rgba(255,128,0,0.81) 30%,rgba(255,128,0,0.95) 40%,rgba(255,128,0,1.00) 50%,rgba(255,128,0,0.95) 60%,rgba(255,128,0,0.81) 70%,rgba(255,128,0,0.59) 80%,rgba(255,128,0,0.31) 90%,rgba(255,128,0,0.00) 100%);-webkit-mask-image:linear-gradient(90deg,rgba(0,0,0,0.680) 0.0%,rgba(0,0,0,0.800) 20.0%,rgba(0,0,0,0.840) 40.0%,rgba(0,0,0,0.820) 60.0%,rgba(0,0,0,0.720) 80.0%,rgba(0,0,0,0.660) 100.0%);mask-image:linear-gradient(90deg,rgba(0,0,0,0.680) 0.0%,rgba(0,0,0,0.800) 20.0%,rgba(0,0,0,0.840) 40.0%,rgba(0,0,0,0.820) 60.0%,rgba(0,0,0,0.720) 80.0%,rgba(0,0,0,0.660) 100.0%)"></i><i style="top:57.9px;height:13.0px;background:linear-gradient(rgba(255,128,0,0.00) 0%,rgba(255,128,0,0.31) 10%,rgba(255,128,0,0.59) 20%,rgba(255,128,0,0.81) 30%,rgba(255,128,0,0.95) 40%,rgba(255,128,0,1.00) 50%,rgba(255,128,0,0.95) 60%,rgba(255,128,0,0.81) 70%,rgba(255,128,0,0.59) 80%,rgba(255,128,0,0.31) 90%,rgba(255,128,0,0.00) 100%);-webkit-mask-image:linear-gradient(90deg,rgba(0,0,0,0.220) 0.0%,rgba(0,0,0,0.280) 30.0%,rgba(0,0,0,0.260) 60.0%,rgba(0,0,0,0.220) 100.0%);mask-image:linear-gradient(90deg,rgba(0,0,0,0.220) 0.0%,rgba(0,0,0,0.280) 30.0%,rgba(0,0,0,0.260) 60.0%,rgba(0,0,0,0.220) 100.0%)"></i><i style="top:44.6px;height:13.0px;background:linear-gradient(rgba(255,128,0,0.00) 0%,rgba(255,128,0,0.31) 10%,rgba(255,128,0,0.59) 20%,rgba(255,128,0,0.81) 30%,rgba(255,128,0,0.95) 40%,rgba(255,128,0,1.00) 50%,rgba(255,128,0,0.95) 60%,rgba(255,128,0,0.81) 70%,rgba(255,128,0,0.59) 80%,rgba(255,128,0,0.31) 90%,rgba(255,128,0,0.00) 100%);-webkit-mask-image:linear-gradient(90deg,rgba(0,0,0,0.120) 0.0%,rgba(0,0,0,0.140) 30.0%,rgba(0,0,0,0.120) 60.0%,rgba(0,0,0,0.140) 100.0%);mask-image:linear-gradient(90deg,rgba(0,0,0,0.120) 0.0%,rgba(0,0,0,0.140) 30.0%,rgba(0,0,0,0.120) 60.0%,rgba(0,0,0,0.140) 100.0%)"></i><i style="top:91.7px;height:13.0px;background:linear-gradient(rgba(255,128,0,0.00) 0%,rgba(255,128,0,0.31) 10%,rgba(255,128,0,0.59) 20%,rgba(255,128,0,0.81) 30%,rgba(255,128,0,0.95) 40%,rgba(255,128,0,1.00) 50%,rgba(255,128,0,0.95) 60%,rgba(255,128,0,0.81) 70%,rgba(255,128,0,0.59) 80%,rgba(255,128,0,0.31) 90%,rgba(255,128,0,0.00) 100%);-webkit-mask-image:linear-gradient(90deg,rgba(0,0,0,0.200) 0.0%,rgba(0,0,0,0.260) 30.0%,rgba(0,0,0,0.260) 60.0%,rgba(0,0,0,0.220) 100.0%);mask-image:linear-gradient(90deg,rgba(0,0,0,0.200) 0.0%,rgba(0,0,0,0.260) 30.0%,rgba(0,0,0,0.260) 60.0%,rgba(0,0,0,0.220) 100.0%)"></i><i style="top:104.1px;height:13.0px;background:linear-gradient(rgba(255,128,0,0.00) 0%,rgba(255,128,0,0.31) 10%,rgba(255,128,0,0.59) 20%,rgba(255,128,0,0.81) 30%,rgba(255,128,0,0.95) 40%,rgba(255,128,0,1.00) 50%,rgba(255,128,0,0.95) 60%,rgba(255,128,0,0.81) 70%,rgba(255,128,0,0.59) 80%,rgba(255,128,0,0.31) 90%,rgba(255,128,0,0.00) 100%);-webkit-mask-image:linear-gradient(90deg,rgba(0,0,0,0.120) 0.0%,rgba(0,0,0,0.140) 30.0%,rgba(0,0,0,0.120) 60.0%,rgba(0,0,0,0.100) 100.0%);mask-image:linear-gradient(90deg,rgba(0,0,0,0.120) 0.0%,rgba(0,0,0,0.140) 30.0%,rgba(0,0,0,0.120) 60.0%,rgba(0,0,0,0.100) 100.0%)"></i><i style="top:13.0px;height:40.0px;background:linear-gradient(rgba(255,128,0,0.00) 0%,rgba(255,128,0,0.31) 10%,rgba(255,128,0,0.59) 20%,rgba(255,128,0,0.81) 30%,rgba(255,128,0,0.95) 40%,rgba(255,128,0,1.00) 50%,rgba(255,128,0,0.95) 60%,rgba(255,128,0,0.81) 70%,rgba(255,128,0,0.59) 80%,rgba(255,128,0,0.31) 90%,rgba(255,128,0,0.00) 100%);-webkit-mask-image:linear-gradient(90deg,rgba(0,0,0,0.060) 0.0%,rgba(0,0,0,0.050) 50.0%,rgba(0,0,0,0.080) 100.0%);mask-image:linear-gradient(90deg,rgba(0,0,0,0.060) 0.0%,rgba(0,0,0,0.050) 50.0%,rgba(0,0,0,0.080) 100.0%)"></i><i style="top:112.8px;height:45.0px;background:linear-gradient(rgba(255,128,0,0.00) 0%,rgba(255,128,0,0.31) 10%,rgba(255,128,0,0.59) 20%,rgba(255,128,0,0.81) 30%,rgba(255,128,0,0.95) 40%,rgba(255,128,0,1.00) 50%,rgba(255,128,0,0.95) 60%,rgba(255,128,0,0.81) 70%,rgba(255,128,0,0.59) 80%,rgba(255,128,0,0.31) 90%,rgba(255,128,0,0.00) 100%);-webkit-mask-image:linear-gradient(90deg,rgba(0,0,0,0.100) 0.0%,rgba(0,0,0,0.080) 40.0%,rgba(0,0,0,0.040) 70.0%,rgba(0,0,0,0.040) 100.0%);mask-image:linear-gradient(90deg,rgba(0,0,0,0.100) 0.0%,rgba(0,0,0,0.080) 40.0%,rgba(0,0,0,0.040) 70.0%,rgba(0,0,0,0.040) 100.0%)"></i></div>
<div class="p" style="left:1207px;top:291px;width:354px;height:166px;background:linear-gradient(rgb(16,8,0),rgb(22,11,0) 50%,rgb(18,9,0))"><i style="top:67.9px;height:17.0px;background:linear-gradient(rgba(255,128,0,0.00) 0%,rgba(255,128,0,0.31) 10%,rgba(255,128,0,0.59) 20%,rgba(255,128,0,0.81) 30%,rgba(255,128,0,0.95) 40%,rgba(255,128,0,1.00) 50%,rgba(255,128,0,0.95) 60%,rgba(255,128,0,0.81) 70%,rgba(255,128,0,0.59) 80%,rgba(255,128,0,0.31) 90%,rgba(255,128,0,0.00) 100%);-webkit-mask-image:linear-gradient(90deg,rgba(0,0,0,0.680) 0.0%,rgba(0,0,0,0.760) 15.0%,rgba(0,0,0,0.820) 35.0%,rgba(0,0,0,0.780) 60.0%,rgba(0,0,0,0.600) 100.0%);mask-image:linear-gradient(90deg,rgba(0,0,0,0.680) 0.0%,rgba(0,0,0,0.760) 15.0%,rgba(0,0,0,0.820) 35.0%,rgba(0,0,0,0.780) 60.0%,rgba(0,0,0,0.600) 100.0%)"></i><i style="top:82.8px;height:17.0px;background:linear-gradient(rgba(255,128,0,0.00) 0%,rgba(255,128,0,0.31) 10%,rgba(255,128,0,0.59) 20%,rgba(255,128,0,0.81) 30%,rgba(255,128,0,0.95) 40%,rgba(255,128,0,1.00) 50%,rgba(255,128,0,0.95) 60%,rgba(255,128,0,0.81) 70%,rgba(255,128,0,0.59) 80%,rgba(255,128,0,0.31) 90%,rgba(255,128,0,0.00) 100%);-webkit-mask-image:linear-gradient(90deg,rgba(0,0,0,0.700) 0.0%,rgba(0,0,0,0.760) 20.0%,rgba(0,0,0,0.780) 40.0%,rgba(0,0,0,0.820) 60.0%,rgba(0,0,0,0.600) 100.0%);mask-image:linear-gradient(90deg,rgba(0,0,0,0.700) 0.0%,rgba(0,0,0,0.760) 20.0%,rgba(0,0,0,0.780) 40.0%,rgba(0,0,0,0.820) 60.0%,rgba(0,0,0,0.600) 100.0%)"></i><i style="top:53.9px;height:15.0px;background:linear-gradient(rgba(255,128,0,0.00) 0%,rgba(255,128,0,0.31) 10%,rgba(255,128,0,0.59) 20%,rgba(255,128,0,0.81) 30%,rgba(255,128,0,0.95) 40%,rgba(255,128,0,1.00) 50%,rgba(255,128,0,0.95) 60%,rgba(255,128,0,0.81) 70%,rgba(255,128,0,0.59) 80%,rgba(255,128,0,0.31) 90%,rgba(255,128,0,0.00) 100%);-webkit-mask-image:linear-gradient(90deg,rgba(0,0,0,0.380) 0.0%,rgba(0,0,0,0.420) 30.0%,rgba(0,0,0,0.380) 60.0%,rgba(0,0,0,0.320) 100.0%);mask-image:linear-gradient(90deg,rgba(0,0,0,0.380) 0.0%,rgba(0,0,0,0.420) 30.0%,rgba(0,0,0,0.380) 60.0%,rgba(0,0,0,0.320) 100.0%)"></i><i style="top:40.3px;height:14.0px;background:linear-gradient(rgba(255,128,0,0.00) 0%,rgba(255,128,0,0.31) 10%,rgba(255,128,0,0.59) 20%,rgba(255,128,0,0.81) 30%,rgba(255,128,0,0.95) 40%,rgba(255,128,0,1.00) 50%,rgba(255,128,0,0.95) 60%,rgba(255,128,0,0.81) 70%,rgba(255,128,0,0.59) 80%,rgba(255,128,0,0.31) 90%,rgba(255,128,0,0.00) 100%);-webkit-mask-image:linear-gradient(90deg,rgba(0,0,0,0.220) 0.0%,rgba(0,0,0,0.240) 30.0%,rgba(0,0,0,0.200) 60.0%,rgba(0,0,0,0.220) 100.0%);mask-image:linear-gradient(90deg,rgba(0,0,0,0.220) 0.0%,rgba(0,0,0,0.240) 30.0%,rgba(0,0,0,0.200) 60.0%,rgba(0,0,0,0.220) 100.0%)"></i><i style="top:98.7px;height:15.0px;background:linear-gradient(rgba(255,128,0,0.00) 0%,rgba(255,128,0,0.31) 10%,rgba(255,128,0,0.59) 20%,rgba(255,128,0,0.81) 30%,rgba(255,128,0,0.95) 40%,rgba(255,128,0,1.00) 50%,rgba(255,128,0,0.95) 60%,rgba(255,128,0,0.81) 70%,rgba(255,128,0,0.59) 80%,rgba(255,128,0,0.31) 90%,rgba(255,128,0,0.00) 100%);-webkit-mask-image:linear-gradient(90deg,rgba(0,0,0,0.360) 0.0%,rgba(0,0,0,0.380) 30.0%,rgba(0,0,0,0.360) 60.0%,rgba(0,0,0,0.320) 100.0%);mask-image:linear-gradient(90deg,rgba(0,0,0,0.360) 0.0%,rgba(0,0,0,0.380) 30.0%,rgba(0,0,0,0.360) 60.0%,rgba(0,0,0,0.320) 100.0%)"></i><i style="top:113.3px;height:14.0px;background:linear-gradient(rgba(255,128,0,0.00) 0%,rgba(255,128,0,0.31) 10%,rgba(255,128,0,0.59) 20%,rgba(255,128,0,0.81) 30%,rgba(255,128,0,0.95) 40%,rgba(255,128,0,1.00) 50%,rgba(255,128,0,0.95) 60%,rgba(255,128,0,0.81) 70%,rgba(255,128,0,0.59) 80%,rgba(255,128,0,0.31) 90%,rgba(255,128,0,0.00) 100%);-webkit-mask-image:linear-gradient(90deg,rgba(0,0,0,0.280) 0.0%,rgba(0,0,0,0.260) 30.0%,rgba(0,0,0,0.240) 60.0%,rgba(0,0,0,0.240) 100.0%);mask-image:linear-gradient(90deg,rgba(0,0,0,0.280) 0.0%,rgba(0,0,0,0.260) 30.0%,rgba(0,0,0,0.240) 60.0%,rgba(0,0,0,0.240) 100.0%)"></i><i style="top:4.9px;height:40.0px;background:linear-gradient(rgba(255,128,0,0.00) 0%,rgba(255,128,0,0.31) 10%,rgba(255,128,0,0.59) 20%,rgba(255,128,0,0.81) 30%,rgba(255,128,0,0.95) 40%,rgba(255,128,0,1.00) 50%,rgba(255,128,0,0.95) 60%,rgba(255,128,0,0.81) 70%,rgba(255,128,0,0.59) 80%,rgba(255,128,0,0.31) 90%,rgba(255,128,0,0.00) 100%);-webkit-mask-image:linear-gradient(90deg,rgba(0,0,0,0.080) 0.0%,rgba(0,0,0,0.060) 50.0%,rgba(0,0,0,0.140) 100.0%);mask-image:linear-gradient(90deg,rgba(0,0,0,0.080) 0.0%,rgba(0,0,0,0.060) 50.0%,rgba(0,0,0,0.140) 100.0%)"></i><i style="top:120.3px;height:45.0px;background:linear-gradient(rgba(255,128,0,0.00) 0%,rgba(255,128,0,0.31) 10%,rgba(255,128,0,0.59) 20%,rgba(255,128,0,0.81) 30%,rgba(255,128,0,0.95) 40%,rgba(255,128,0,1.00) 50%,rgba(255,128,0,0.95) 60%,rgba(255,128,0,0.81) 70%,rgba(255,128,0,0.59) 80%,rgba(255,128,0,0.31) 90%,rgba(255,128,0,0.00) 100%);-webkit-mask-image:linear-gradient(90deg,rgba(0,0,0,0.200) 0.0%,rgba(0,0,0,0.140) 40.0%,rgba(0,0,0,0.120) 70.0%,rgba(0,0,0,0.160) 100.0%);mask-image:linear-gradient(90deg,rgba(0,0,0,0.200) 0.0%,rgba(0,0,0,0.140) 40.0%,rgba(0,0,0,0.120) 70.0%,rgba(0,0,0,0.160) 100.0%)"></i></div>
<div class="p" style="left:1207px;top:464px;width:354px;height:166px;background:rgb(14,7,0)"><i style="top:61.9px;height:19.0px;background:linear-gradient(rgba(255,128,0,0.00) 0%,rgba(255,128,0,0.31) 10%,rgba(255,128,0,0.59) 20%,rgba(255,128,0,0.81) 30%,rgba(255,128,0,0.95) 40%,rgba(255,128,0,1.00) 50%,rgba(255,128,0,0.95) 60%,rgba(255,128,0,0.81) 70%,rgba(255,128,0,0.59) 80%,rgba(255,128,0,0.31) 90%,rgba(255,128,0,0.00) 100%);-webkit-mask-image:linear-gradient(90deg,rgba(0,0,0,0.720) 0.0%,rgba(0,0,0,0.800) 20.0%,rgba(0,0,0,0.860) 35.0%,rgba(0,0,0,0.760) 60.0%,rgba(0,0,0,0.580) 100.0%);mask-image:linear-gradient(90deg,rgba(0,0,0,0.720) 0.0%,rgba(0,0,0,0.800) 20.0%,rgba(0,0,0,0.860) 35.0%,rgba(0,0,0,0.760) 60.0%,rgba(0,0,0,0.580) 100.0%)"></i><i style="top:87.6px;height:19.0px;background:linear-gradient(rgba(255,128,0,0.00) 0%,rgba(255,128,0,0.31) 10%,rgba(255,128,0,0.59) 20%,rgba(255,128,0,0.81) 30%,rgba(255,128,0,0.95) 40%,rgba(255,128,0,1.00) 50%,rgba(255,128,0,0.95) 60%,rgba(255,128,0,0.81) 70%,rgba(255,128,0,0.59) 80%,rgba(255,128,0,0.31) 90%,rgba(255,128,0,0.00) 100%);-webkit-mask-image:linear-gradient(90deg,rgba(0,0,0,0.780) 0.0%,rgba(0,0,0,0.840) 20.0%,rgba(0,0,0,0.840) 40.0%,rgba(0,0,0,0.780) 60.0%,rgba(0,0,0,0.600) 100.0%);mask-image:linear-gradient(90deg,rgba(0,0,0,0.780) 0.0%,rgba(0,0,0,0.840) 20.0%,rgba(0,0,0,0.840) 40.0%,rgba(0,0,0,0.780) 60.0%,rgba(0,0,0,0.600) 100.0%)"></i><i style="top:49.4px;height:14.0px;background:linear-gradient(rgba(255,128,0,0.00) 0%,rgba(255,128,0,0.31) 10%,rgba(255,128,0,0.59) 20%,rgba(255,128,0,0.81) 30%,rgba(255,128,0,0.95) 40%,rgba(255,128,0,1.00) 50%,rgba(255,128,0,0.95) 60%,rgba(255,128,0,0.81) 70%,rgba(255,128,0,0.59) 80%,rgba(255,128,0,0.31) 90%,rgba(255,128,0,0.00) 100%);-webkit-mask-image:linear-gradient(90deg,rgba(0,0,0,0.400) 0.0%,rgba(0,0,0,0.440) 30.0%,rgba(0,0,0,0.400) 60.0%,rgba(0,0,0,0.360) 100.0%);mask-image:linear-gradient(90deg,rgba(0,0,0,0.400) 0.0%,rgba(0,0,0,0.440) 30.0%,rgba(0,0,0,0.400) 60.0%,rgba(0,0,0,0.360) 100.0%)"></i><i style="top:105.1px;height:14.0px;background:linear-gradient(rgba(255,128,0,0.00) 0%,rgba(255,128,0,0.31) 10%,rgba(255,128,0,0.59) 20%,rgba(255,128,0,0.81) 30%,rgba(255,128,0,0.95) 40%,rgba(255,128,0,1.00) 50%,rgba(255,128,0,0.95) 60%,rgba(255,128,0,0.81) 70%,rgba(255,128,0,0.59) 80%,rgba(255,128,0,0.31) 90%,rgba(255,128,0,0.00) 100%);-webkit-mask-image:linear-gradient(90deg,rgba(0,0,0,0.380) 0.0%,rgba(0,0,0,0.400) 30.0%,rgba(0,0,0,0.360) 60.0%,rgba(0,0,0,0.320) 100.0%);mask-image:linear-gradient(90deg,rgba(0,0,0,0.380) 0.0%,rgba(0,0,0,0.400) 30.0%,rgba(0,0,0,0.360) 60.0%,rgba(0,0,0,0.320) 100.0%)"></i><i style="top:118.8px;height:13.0px;background:linear-gradient(rgba(255,128,0,0.00) 0%,rgba(255,128,0,0.31) 10%,rgba(255,128,0,0.59) 20%,rgba(255,128,0,0.81) 30%,rgba(255,128,0,0.95) 40%,rgba(255,128,0,1.00) 50%,rgba(255,128,0,0.95) 60%,rgba(255,128,0,0.81) 70%,rgba(255,128,0,0.59) 80%,rgba(255,128,0,0.31) 90%,rgba(255,128,0,0.00) 100%);-webkit-mask-image:linear-gradient(90deg,rgba(0,0,0,0.280) 0.0%,rgba(0,0,0,0.260) 30.0%,rgba(0,0,0,0.220) 60.0%,rgba(0,0,0,0.220) 100.0%);mask-image:linear-gradient(90deg,rgba(0,0,0,0.280) 0.0%,rgba(0,0,0,0.260) 30.0%,rgba(0,0,0,0.220) 60.0%,rgba(0,0,0,0.220) 100.0%)"></i><i style="top:-0.1px;height:50.0px;background:linear-gradient(rgba(255,128,0,0.00) 0%,rgba(255,128,0,0.31) 10%,rgba(255,128,0,0.59) 20%,rgba(255,128,0,0.81) 30%,rgba(255,128,0,0.95) 40%,rgba(255,128,0,1.00) 50%,rgba(255,128,0,0.95) 60%,rgba(255,128,0,0.81) 70%,rgba(255,128,0,0.59) 80%,rgba(255,128,0,0.31) 90%,rgba(255,128,0,0.00) 100%);-webkit-mask-image:linear-gradient(90deg,rgba(0,0,0,0.080) 0.0%,rgba(0,0,0,0.100) 40.0%,rgba(0,0,0,0.250) 70.0%,rgba(0,0,0,0.320) 100.0%);mask-image:linear-gradient(90deg,rgba(0,0,0,0.080) 0.0%,rgba(0,0,0,0.100) 40.0%,rgba(0,0,0,0.250) 70.0%,rgba(0,0,0,0.320) 100.0%)"></i><i style="top:117.8px;height:50.0px;background:linear-gradient(rgba(255,128,0,0.00) 0%,rgba(255,128,0,0.31) 10%,rgba(255,128,0,0.59) 20%,rgba(255,128,0,0.81) 30%,rgba(255,128,0,0.95) 40%,rgba(255,128,0,1.00) 50%,rgba(255,128,0,0.95) 60%,rgba(255,128,0,0.81) 70%,rgba(255,128,0,0.59) 80%,rgba(255,128,0,0.31) 90%,rgba(255,128,0,0.00) 100%);-webkit-mask-image:linear-gradient(90deg,rgba(0,0,0,0.300) 0.0%,rgba(0,0,0,0.220) 30.0%,rgba(0,0,0,0.180) 60.0%,rgba(0,0,0,0.240) 100.0%);mask-image:linear-gradient(90deg,rgba(0,0,0,0.300) 0.0%,rgba(0,0,0,0.220) 30.0%,rgba(0,0,0,0.180) 60.0%,rgba(0,0,0,0.240) 100.0%)"></i></div>
<div class="p" style="left:1207px;top:637px;width:354px;height:166px;background:rgb(16,8,0)"><i style="top:59.2px;height:21.0px;background:linear-gradient(rgba(255,128,0,0.00) 0%,rgba(255,128,0,0.31) 10%,rgba(255,128,0,0.59) 20%,rgba(255,128,0,0.81) 30%,rgba(255,128,0,0.95) 40%,rgba(255,128,0,1.00) 50%,rgba(255,128,0,0.95) 60%,rgba(255,128,0,0.81) 70%,rgba(255,128,0,0.59) 80%,rgba(255,128,0,0.31) 90%,rgba(255,128,0,0.00) 100%);-webkit-mask-image:linear-gradient(90deg,rgba(0,0,0,0.680) 0.0%,rgba(0,0,0,0.760) 20.0%,rgba(0,0,0,0.800) 45.0%,rgba(0,0,0,0.680) 70.0%,rgba(0,0,0,0.480) 100.0%);mask-image:linear-gradient(90deg,rgba(0,0,0,0.680) 0.0%,rgba(0,0,0,0.760) 20.0%,rgba(0,0,0,0.800) 45.0%,rgba(0,0,0,0.680) 70.0%,rgba(0,0,0,0.480) 100.0%)"></i><i style="top:94.1px;height:21.0px;background:linear-gradient(rgba(255,128,0,0.00) 0%,rgba(255,128,0,0.31) 10%,rgba(255,128,0,0.59) 20%,rgba(255,128,0,0.81) 30%,rgba(255,128,0,0.95) 40%,rgba(255,128,0,1.00) 50%,rgba(255,128,0,0.95) 60%,rgba(255,128,0,0.81) 70%,rgba(255,128,0,0.59) 80%,rgba(255,128,0,0.31) 90%,rgba(255,128,0,0.00) 100%);-webkit-mask-image:linear-gradient(90deg,rgba(0,0,0,0.740) 0.0%,rgba(0,0,0,0.800) 20.0%,rgba(0,0,0,0.840) 40.0%,rgba(0,0,0,0.780) 60.0%,rgba(0,0,0,0.540) 100.0%);mask-image:linear-gradient(90deg,rgba(0,0,0,0.740) 0.0%,rgba(0,0,0,0.800) 20.0%,rgba(0,0,0,0.840) 40.0%,rgba(0,0,0,0.780) 60.0%,rgba(0,0,0,0.540) 100.0%)"></i><i style="top:76.2px;height:22.0px;background:linear-gradient(rgba(255,128,0,0.00) 0%,rgba(255,128,0,0.31) 10%,rgba(255,128,0,0.59) 20%,rgba(255,128,0,0.81) 30%,rgba(255,128,0,0.95) 40%,rgba(255,128,0,1.00) 50%,rgba(255,128,0,0.95) 60%,rgba(255,128,0,0.81) 70%,rgba(255,128,0,0.59) 80%,rgba(255,128,0,0.31) 90%,rgba(255,128,0,0.00) 100%);-webkit-mask-image:linear-gradient(90deg,rgba(0,0,0,0.120) 0.0%,rgba(0,0,0,0.100) 50.0%,rgba(0,0,0,0.050) 100.0%);mask-image:linear-gradient(90deg,rgba(0,0,0,0.120) 0.0%,rgba(0,0,0,0.100) 50.0%,rgba(0,0,0,0.050) 100.0%)"></i><i style="top:45.3px;height:14.0px;background:linear-gradient(rgba(255,128,0,0.00) 0%,rgba(255,128,0,0.31) 10%,rgba(255,128,0,0.59) 20%,rgba(255,128,0,0.81) 30%,rgba(255,128,0,0.95) 40%,rgba(255,128,0,1.00) 50%,rgba(255,128,0,0.95) 60%,rgba(255,128,0,0.81) 70%,rgba(255,128,0,0.59) 80%,rgba(255,128,0,0.31) 90%,rgba(255,128,0,0.00) 100%);-webkit-mask-image:linear-gradient(90deg,rgba(0,0,0,0.350) 0.0%,rgba(0,0,0,0.380) 30.0%,rgba(0,0,0,0.380) 60.0%,rgba(0,0,0,0.340) 100.0%);mask-image:linear-gradient(90deg,rgba(0,0,0,0.350) 0.0%,rgba(0,0,0,0.380) 30.0%,rgba(0,0,0,0.380) 60.0%,rgba(0,0,0,0.340) 100.0%)"></i><i style="top:113.3px;height:14.0px;background:linear-gradient(rgba(255,128,0,0.00) 0%,rgba(255,128,0,0.31) 10%,rgba(255,128,0,0.59) 20%,rgba(255,128,0,0.81) 30%,rgba(255,128,0,0.95) 40%,rgba(255,128,0,1.00) 50%,rgba(255,128,0,0.95) 60%,rgba(255,128,0,0.81) 70%,rgba(255,128,0,0.59) 80%,rgba(255,128,0,0.31) 90%,rgba(255,128,0,0.00) 100%);-webkit-mask-image:linear-gradient(90deg,rgba(0,0,0,0.360) 0.0%,rgba(0,0,0,0.360) 30.0%,rgba(0,0,0,0.340) 60.0%,rgba(0,0,0,0.320) 100.0%);mask-image:linear-gradient(90deg,rgba(0,0,0,0.360) 0.0%,rgba(0,0,0,0.360) 30.0%,rgba(0,0,0,0.340) 60.0%,rgba(0,0,0,0.320) 100.0%)"></i><i style="top:126.3px;height:13.0px;background:linear-gradient(rgba(255,128,0,0.00) 0%,rgba(255,128,0,0.31) 10%,rgba(255,128,0,0.59) 20%,rgba(255,128,0,0.81) 30%,rgba(255,128,0,0.95) 40%,rgba(255,128,0,1.00) 50%,rgba(255,128,0,0.95) 60%,rgba(255,128,0,0.81) 70%,rgba(255,128,0,0.59) 80%,rgba(255,128,0,0.31) 90%,rgba(255,128,0,0.00) 100%);-webkit-mask-image:linear-gradient(90deg,rgba(0,0,0,0.300) 0.0%,rgba(0,0,0,0.300) 30.0%,rgba(0,0,0,0.260) 60.0%,rgba(0,0,0,0.240) 100.0%);mask-image:linear-gradient(90deg,rgba(0,0,0,0.300) 0.0%,rgba(0,0,0,0.300) 30.0%,rgba(0,0,0,0.260) 60.0%,rgba(0,0,0,0.240) 100.0%)"></i><i style="top:-1.8px;height:50.0px;background:linear-gradient(rgba(255,128,0,0.00) 0%,rgba(255,128,0,0.31) 10%,rgba(255,128,0,0.59) 20%,rgba(255,128,0,0.81) 30%,rgba(255,128,0,0.95) 40%,rgba(255,128,0,1.00) 50%,rgba(255,128,0,0.95) 60%,rgba(255,128,0,0.81) 70%,rgba(255,128,0,0.59) 80%,rgba(255,128,0,0.31) 90%,rgba(255,128,0,0.00) 100%);-webkit-mask-image:linear-gradient(90deg,rgba(0,0,0,0.140) 0.0%,rgba(0,0,0,0.180) 40.0%,rgba(0,0,0,0.300) 70.0%,rgba(0,0,0,0.380) 100.0%);mask-image:linear-gradient(90deg,rgba(0,0,0,0.140) 0.0%,rgba(0,0,0,0.180) 40.0%,rgba(0,0,0,0.300) 70.0%,rgba(0,0,0,0.380) 100.0%)"></i><i style="top:123.6px;height:45.0px;background:linear-gradient(rgba(255,128,0,0.00) 0%,rgba(255,128,0,0.31) 10%,rgba(255,128,0,0.59) 20%,rgba(255,128,0,0.81) 30%,rgba(255,128,0,0.95) 40%,rgba(255,128,0,1.00) 50%,rgba(255,128,0,0.95) 60%,rgba(255,128,0,0.81) 70%,rgba(255,128,0,0.59) 80%,rgba(255,128,0,0.31) 90%,rgba(255,128,0,0.00) 100%);-webkit-mask-image:linear-gradient(90deg,rgba(0,0,0,0.300) 0.0%,rgba(0,0,0,0.280) 30.0%,rgba(0,0,0,0.260) 60.0%,rgba(0,0,0,0.300) 100.0%);mask-image:linear-gradient(90deg,rgba(0,0,0,0.300) 0.0%,rgba(0,0,0,0.280) 30.0%,rgba(0,0,0,0.260) 60.0%,rgba(0,0,0,0.300) 100.0%)"></i></div>
<div class="p" style="left:1207px;top:809px;width:354px;height:166px;background:rgb(16,8,0)"><i style="top:51.8px;height:21.0px;background:linear-gradient(rgba(255,128,0,0.00) 0%,rgba(255,128,0,0.31) 10%,rgba(255,128,0,0.59) 20%,rgba(255,128,0,0.81) 30%,rgba(255,128,0,0.95) 40%,rgba(255,128,0,1.00) 50%,rgba(255,128,0,0.95) 60%,rgba(255,128,0,0.81) 70%,rgba(255,128,0,0.59) 80%,rgba(255,128,0,0.31) 90%,rgba(255,128,0,0.00) 100%);-webkit-mask-image:linear-gradient(90deg,rgba(0,0,0,0.680) 0.0%,rgba(0,0,0,0.780) 20.0%,rgba(0,0,0,0.840) 40.0%,rgba(0,0,0,0.680) 70.0%,rgba(0,0,0,0.500) 100.0%);mask-image:linear-gradient(90deg,rgba(0,0,0,0.680) 0.0%,rgba(0,0,0,0.780) 20.0%,rgba(0,0,0,0.840) 40.0%,rgba(0,0,0,0.680) 70.0%,rgba(0,0,0,0.500) 100.0%)"></i><i style="top:94.9px;height:21.0px;background:linear-gradient(rgba(255,128,0,0.00) 0%,rgba(255,128,0,0.31) 10%,rgba(255,128,0,0.59) 20%,rgba(255,128,0,0.81) 30%,rgba(255,128,0,0.95) 40%,rgba(255,128,0,1.00) 50%,rgba(255,128,0,0.95) 60%,rgba(255,128,0,0.81) 70%,rgba(255,128,0,0.59) 80%,rgba(255,128,0,0.31) 90%,rgba(255,128,0,0.00) 100%);-webkit-mask-image:linear-gradient(90deg,rgba(0,0,0,0.720) 0.0%,rgba(0,0,0,0.780) 20.0%,rgba(0,0,0,0.840) 45.0%,rgba(0,0,0,0.720) 70.0%,rgba(0,0,0,0.520) 100.0%);mask-image:linear-gradient(90deg,rgba(0,0,0,0.720) 0.0%,rgba(0,0,0,0.780) 20.0%,rgba(0,0,0,0.840) 45.0%,rgba(0,0,0,0.720) 70.0%,rgba(0,0,0,0.520) 100.0%)"></i><i style="top:72.8px;height:22.0px;background:linear-gradient(rgba(255,128,0,0.00) 0%,rgba(255,128,0,0.31) 10%,rgba(255,128,0,0.59) 20%,rgba(255,128,0,0.81) 30%,rgba(255,128,0,0.95) 40%,rgba(255,128,0,1.00) 50%,rgba(255,128,0,0.95) 60%,rgba(255,128,0,0.81) 70%,rgba(255,128,0,0.59) 80%,rgba(255,128,0,0.31) 90%,rgba(255,128,0,0.00) 100%);-webkit-mask-image:linear-gradient(90deg,rgba(0,0,0,0.150) 0.0%,rgba(0,0,0,0.120) 50.0%,rgba(0,0,0,0.050) 100.0%);mask-image:linear-gradient(90deg,rgba(0,0,0,0.150) 0.0%,rgba(0,0,0,0.120) 50.0%,rgba(0,0,0,0.050) 100.0%)"></i><i style="top:37.0px;height:14.0px;background:linear-gradient(rgba(255,128,0,0.00) 0%,rgba(255,128,0,0.31) 10%,rgba(255,128,0,0.59) 20%,rgba(255,128,0,0.81) 30%,rgba(255,128,0,0.95) 40%,rgba(255,128,0,1.00) 50%,rgba(255,128,0,0.95) 60%,rgba(255,128,0,0.81) 70%,rgba(255,128,0,0.59) 80%,rgba(255,128,0,0.31) 90%,rgba(255,128,0,0.00) 100%);-webkit-mask-image:linear-gradient(90deg,rgba(0,0,0,0.360) 0.0%,rgba(0,0,0,0.400) 30.0%,rgba(0,0,0,0.400) 60.0%,rgba(0,0,0,0.360) 100.0%);mask-image:linear-gradient(90deg,rgba(0,0,0,0.360) 0.0%,rgba(0,0,0,0.400) 30.0%,rgba(0,0,0,0.400) 60.0%,rgba(0,0,0,0.360) 100.0%)"></i><i style="top:113.3px;height:14.0px;background:linear-gradient(rgba(255,128,0,0.00) 0%,rgba(255,128,0,0.31) 10%,rgba(255,128,0,0.59) 20%,rgba(255,128,0,0.81) 30%,rgba(255,128,0,0.95) 40%,rgba(255,128,0,1.00) 50%,rgba(255,128,0,0.95) 60%,rgba(255,128,0,0.81) 70%,rgba(255,128,0,0.59) 80%,rgba(255,128,0,0.31) 90%,rgba(255,128,0,0.00) 100%);-webkit-mask-image:linear-gradient(90deg,rgba(0,0,0,0.380) 0.0%,rgba(0,0,0,0.420) 30.0%,rgba(0,0,0,0.380) 60.0%,rgba(0,0,0,0.340) 100.0%);mask-image:linear-gradient(90deg,rgba(0,0,0,0.380) 0.0%,rgba(0,0,0,0.420) 30.0%,rgba(0,0,0,0.380) 60.0%,rgba(0,0,0,0.340) 100.0%)"></i><i style="top:127.1px;height:13.0px;background:linear-gradient(rgba(255,128,0,0.00) 0%,rgba(255,128,0,0.31) 10%,rgba(255,128,0,0.59) 20%,rgba(255,128,0,0.81) 30%,rgba(255,128,0,0.95) 40%,rgba(255,128,0,1.00) 50%,rgba(255,128,0,0.95) 60%,rgba(255,128,0,0.81) 70%,rgba(255,128,0,0.59) 80%,rgba(255,128,0,0.31) 90%,rgba(255,128,0,0.00) 100%);-webkit-mask-image:linear-gradient(90deg,rgba(0,0,0,0.320) 0.0%,rgba(0,0,0,0.340) 30.0%,rgba(0,0,0,0.280) 60.0%,rgba(0,0,0,0.260) 100.0%);mask-image:linear-gradient(90deg,rgba(0,0,0,0.320) 0.0%,rgba(0,0,0,0.340) 30.0%,rgba(0,0,0,0.280) 60.0%,rgba(0,0,0,0.260) 100.0%)"></i><i style="top:-2.6px;height:45.0px;background:linear-gradient(rgba(255,128,0,0.00) 0%,rgba(255,128,0,0.31) 10%,rgba(255,128,0,0.59) 20%,rgba(255,128,0,0.81) 30%,rgba(255,128,0,0.95) 40%,rgba(255,128,0,1.00) 50%,rgba(255,128,0,0.95) 60%,rgba(255,128,0,0.81) 70%,rgba(255,128,0,0.59) 80%,rgba(255,128,0,0.31) 90%,rgba(255,128,0,0.00) 100%);-webkit-mask-image:linear-gradient(90deg,rgba(0,0,0,0.160) 0.0%,rgba(0,0,0,0.220) 40.0%,rgba(0,0,0,0.320) 70.0%,rgba(0,0,0,0.400) 100.0%);mask-image:linear-gradient(90deg,rgba(0,0,0,0.160) 0.0%,rgba(0,0,0,0.220) 40.0%,rgba(0,0,0,0.320) 70.0%,rgba(0,0,0,0.400) 100.0%)"></i><i style="top:129.4px;height:40.0px;background:linear-gradient(rgba(255,128,0,0.00) 0%,rgba(255,128,0,0.31) 10%,rgba(255,128,0,0.59) 20%,rgba(255,128,0,0.81) 30%,rgba(255,128,0,0.95) 40%,rgba(255,128,0,1.00) 50%,rgba(255,128,0,0.95) 60%,rgba(255,128,0,0.81) 70%,rgba(255,128,0,0.59) 80%,rgba(255,128,0,0.31) 90%,rgba(255,128,0,0.00) 100%);-webkit-mask-image:linear-gradient(90deg,rgba(0,0,0,0.260) 0.0%,rgba(0,0,0,0.240) 30.0%,rgba(0,0,0,0.220) 60.0%,rgba(0,0,0,0.280) 100.0%);mask-image:linear-gradient(90deg,rgba(0,0,0,0.260) 0.0%,rgba(0,0,0,0.240) 30.0%,rgba(0,0,0,0.220) 60.0%,rgba(0,0,0,0.280) 100.0%)"></i></div>
<div id="cb"></div>
<svg width="1659" height="1064" viewBox="0 0 1659 1064">
<g font-family="Liberation Serif, Times New Roman, serif" fill="#000" text-anchor="middle">
<text x="279.6" y="30.6" font-size="42" font-weight="bold">Simulation</text>
<text x="279.6" y="80.6" font-size="42">x-polarization</text>
<text x="653.8" y="30.6" font-size="42" font-weight="bold">Simulation</text>
<text x="653.8" y="80.6" font-size="42">y-polarization</text>
<text x="1009.7" y="30.6" font-size="42" font-weight="bold">Experiment</text>
<text x="1009.7" y="80.6" font-size="42">x-polarization</text>
<text x="1383.6" y="30.6" font-size="42" font-weight="bold">Experiment</text>
<text x="1383.6" y="80.6" font-size="42">y-polarization</text>
<text transform="translate(33,201.5) rotate(-90)" font-size="42">x (mm)</text>
<text transform="translate(80.5,137.7) scale(0.92,1)" font-size="34" text-anchor="end">4</text>
<text transform="translate(80.5,210.4) scale(0.92,1)" font-size="34" text-anchor="end">0</text>
<text transform="translate(80.5,283.2) scale(0.92,1)" font-size="34" text-anchor="end">-4</text>
<text transform="translate(33,374.0) rotate(-90)" font-size="42">x (mm)</text>
<text transform="translate(80.5,310.4) scale(0.92,1)" font-size="34" text-anchor="end">4</text>
<text transform="translate(80.5,384) scale(0.92,1)" font-size="34" text-anchor="end">0</text>
<text transform="translate(80.5,456.8) scale(0.92,1)" font-size="34" text-anchor="end">-4</text>
<text transform="translate(33,547.0) rotate(-90)" font-size="42">x (mm)</text>
<text transform="translate(80.5,482.7) scale(0.92,1)" font-size="34" text-anchor="end">4</text>
<text transform="translate(80.5,555.4) scale(0.92,1)" font-size="34" text-anchor="end">0</text>
<text transform="translate(80.5,629.1) scale(0.92,1)" font-size="34" text-anchor="end">-4</text>
<text transform="translate(33,720.0) rotate(-90)" font-size="42">x (mm)</text>
<text transform="translate(80.5,657.5) scale(0.92,1)" font-size="34" text-anchor="end">4</text>
<text transform="translate(80.5,729.3) scale(0.92,1)" font-size="34" text-anchor="end">0</text>
<text transform="translate(80.5,802.1) scale(0.92,1)" font-size="34" text-anchor="end">-4</text>
<text transform="translate(33,892.0) rotate(-90)" font-size="42">x (mm)</text>
<text transform="translate(80.5,828.6) scale(0.92,1)" font-size="34" text-anchor="end">4</text>
<text transform="translate(80.5,901.3) scale(0.92,1)" font-size="34" text-anchor="end">0</text>
<text transform="translate(80.5,974.1) scale(0.92,1)" font-size="34" text-anchor="end">-4</text>
<text transform="translate(143.5,1004.8) scale(0.92,1)" font-size="34">5</text>
<text transform="translate(247,1004.8) scale(0.92,1)" font-size="34">10</text>
<text transform="translate(349,1004.8) scale(0.92,1)" font-size="34">15</text>
<text transform="translate(447,1004.8) scale(0.92,1)" font-size="34">20</text>
<text x="274" y="1052.8" font-size="42">z (mm)</text>
<text transform="translate(509.8,1004.8) scale(0.92,1)" font-size="34">5</text>
<text transform="translate(613.3,1004.8) scale(0.92,1)" font-size="34">10</text>
<text transform="translate(715.3,1004.8) scale(0.92,1)" font-size="34">15</text>
<text transform="translate(813.3,1004.8) scale(0.92,1)" font-size="34">20</text>
<text x="640.3" y="1052.8" font-size="42">z (mm)</text>
<text transform="translate(879.8,1004.8) scale(0.92,1)" font-size="34">5</text>
<text transform="translate(983.3,1004.8) scale(0.92,1)" font-size="34">10</text>
<text transform="translate(1085.3,1004.8) scale(0.92,1)" font-size="34">15</text>
<text transform="translate(1183.3,1004.8) scale(0.92,1)" font-size="34">20</text>
<text x="1010.3" y="1052.8" font-size="42">z (mm)</text>
<text transform="translate(1249.8,1004.8) scale(0.92,1)" font-size="34">5</text>
<text transform="translate(1353.3,1004.8) scale(0.92,1)" font-size="34">10</text>
<text transform="translate(1455.3,1004.8) scale(0.92,1)" font-size="34">15</text>
<text transform="translate(1553.3,1004.8) scale(0.92,1)" font-size="34">20</text>
<text x="1380.3" y="1052.8" font-size="42">z (mm)</text>
<text transform="translate(1619.5,93.5) scale(1.05,1)" font-size="41" font-weight="bold" font-style="italic">max</text>
<text transform="translate(1616,1025) scale(1.03,1)" font-size="41" font-weight="bold" font-style="italic">min</text>
</g>
<g font-family="Liberation Sans, Arial, sans-serif" font-weight="bold" fill="#fff" font-size="42">
<text x="104" y="158.8">(a1)</text>
<text x="104" y="323.6">(a2)</text>
<text x="104" y="503.9">(a3)</text>
<text x="104" y="673.6">(a4)</text>
<text x="104" y="850.5">(a5)</text>
<text x="474" y="158.8">(b1)</text>
<text x="474" y="323.6">(b2)</text>
<text x="474" y="503.9">(b3)</text>
<text x="474" y="673.6">(b4)</text>
<text x="474" y="850.5">(b5)</text>
<text x="844" y="158.8">(c1)</text>
<text x="844" y="323.6">(c2)</text>
<text x="844" y="503.9">(c3)</text>
<text x="844" y="673.6">(c4)</text>
<text x="844" y="850.5">(c5)</text>
<text x="1214" y="158.8">(d1)</text>
<text x="1214" y="323.6">(d2)</text>
<text x="1214" y="503.9">(d3)</text>
<text x="1214" y="673.6">(d4)</text>
<text x="1214" y="850.5">(d5)</text>
</g></svg>
</body></html>
